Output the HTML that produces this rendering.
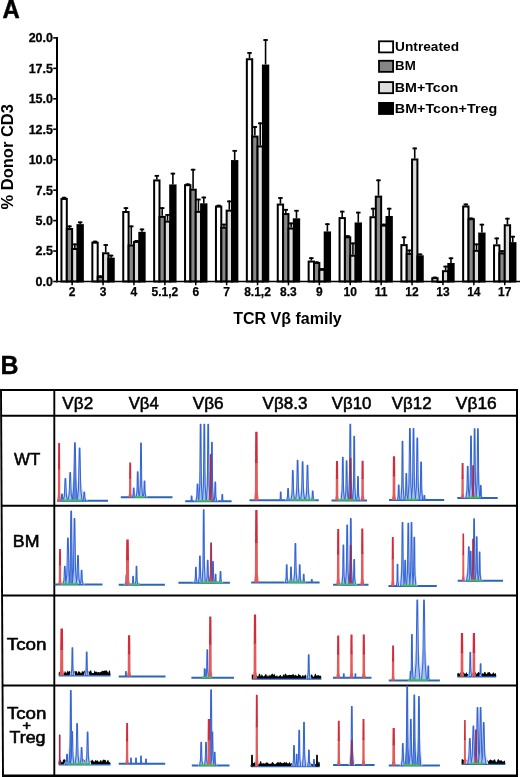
<!DOCTYPE html>
<html><head><meta charset="utf-8"><style>
html,body{margin:0;padding:0;background:#fff;}
body{width:520px;height:777px;overflow:hidden;}
svg{display:block;will-change:transform;}
text{font-family:"Liberation Sans", sans-serif;fill:#000;}
</style></head><body>
<svg width="520" height="777" viewBox="0 0 520 777">
<rect x="0" y="0" width="520" height="777" fill="#fff"/>
<line x1="64.12" y1="197.95" x2="64.12" y2="196.85" stroke="#000" stroke-width="1.6"/>
<line x1="61.88" y1="197.75" x2="66.38" y2="197.75" stroke="#000" stroke-width="1.8"/>
<rect x="61.45" y="198.95" width="5.35" height="82.55" fill="#ffffff" stroke="#000" stroke-width="2.0"/>
<line x1="69.47" y1="228.03" x2="69.47" y2="225.47" stroke="#000" stroke-width="1.6"/>
<line x1="67.22" y1="226.37" x2="71.72" y2="226.37" stroke="#000" stroke-width="1.8"/>
<rect x="66.80" y="229.03" width="5.35" height="52.47" fill="#878787" stroke="#000" stroke-width="2.0"/>
<line x1="74.83" y1="248.00" x2="74.83" y2="243.50" stroke="#000" stroke-width="1.6"/>
<line x1="72.58" y1="244.40" x2="77.08" y2="244.40" stroke="#000" stroke-width="1.8"/>
<rect x="72.15" y="249.00" width="5.35" height="32.50" fill="#dcdcdc" stroke="#000" stroke-width="2.0"/>
<line x1="80.17" y1="224.13" x2="80.17" y2="221.45" stroke="#000" stroke-width="1.6"/>
<line x1="77.92" y1="222.35" x2="82.42" y2="222.35" stroke="#000" stroke-width="1.8"/>
<rect x="77.50" y="225.13" width="5.35" height="56.37" fill="#000000" stroke="#000" stroke-width="2.0"/>
<line x1="72.15" y1="281.5" x2="72.15" y2="285.3" stroke="#000" stroke-width="1.5"/>
<text x="72.15" y="296" text-anchor="middle" font-size="12" font-weight="bold" stroke="#000" stroke-width="0.25">2</text>
<line x1="95.03" y1="241.67" x2="95.03" y2="240.70" stroke="#000" stroke-width="1.6"/>
<line x1="92.78" y1="241.60" x2="97.28" y2="241.60" stroke="#000" stroke-width="1.8"/>
<rect x="92.35" y="242.67" width="5.35" height="38.83" fill="#ffffff" stroke="#000" stroke-width="2.0"/>
<line x1="100.38" y1="276.02" x2="100.38" y2="275.41" stroke="#000" stroke-width="1.6"/>
<line x1="98.12" y1="276.31" x2="102.62" y2="276.31" stroke="#000" stroke-width="1.8"/>
<rect x="97.70" y="277.02" width="5.35" height="4.48" fill="#878787" stroke="#000" stroke-width="2.0"/>
<line x1="105.73" y1="252.27" x2="105.73" y2="244.11" stroke="#000" stroke-width="1.6"/>
<line x1="103.48" y1="245.01" x2="107.98" y2="245.01" stroke="#000" stroke-width="1.8"/>
<rect x="103.05" y="253.27" width="5.35" height="28.23" fill="#dcdcdc" stroke="#000" stroke-width="2.0"/>
<line x1="111.08" y1="257.63" x2="111.08" y2="254.70" stroke="#000" stroke-width="1.6"/>
<line x1="108.83" y1="255.60" x2="113.33" y2="255.60" stroke="#000" stroke-width="1.8"/>
<rect x="108.40" y="258.63" width="5.35" height="22.87" fill="#000000" stroke="#000" stroke-width="2.0"/>
<line x1="103.05" y1="281.5" x2="103.05" y2="285.3" stroke="#000" stroke-width="1.5"/>
<text x="103.05" y="296" text-anchor="middle" font-size="12" font-weight="bold" stroke="#000" stroke-width="0.25">3</text>
<line x1="125.92" y1="210.98" x2="125.92" y2="207.20" stroke="#000" stroke-width="1.6"/>
<line x1="123.67" y1="208.10" x2="128.17" y2="208.10" stroke="#000" stroke-width="1.8"/>
<rect x="123.25" y="211.98" width="5.35" height="69.52" fill="#ffffff" stroke="#000" stroke-width="2.0"/>
<line x1="131.28" y1="244.47" x2="131.28" y2="225.47" stroke="#000" stroke-width="1.6"/>
<line x1="129.03" y1="226.37" x2="133.53" y2="226.37" stroke="#000" stroke-width="1.8"/>
<rect x="128.60" y="245.47" width="5.35" height="36.03" fill="#878787" stroke="#000" stroke-width="2.0"/>
<line x1="136.62" y1="240.94" x2="136.62" y2="240.09" stroke="#000" stroke-width="1.6"/>
<line x1="134.38" y1="240.99" x2="138.88" y2="240.99" stroke="#000" stroke-width="1.8"/>
<rect x="133.95" y="241.94" width="5.35" height="39.56" fill="#dcdcdc" stroke="#000" stroke-width="2.0"/>
<line x1="141.97" y1="231.81" x2="141.97" y2="228.52" stroke="#000" stroke-width="1.6"/>
<line x1="139.72" y1="229.42" x2="144.22" y2="229.42" stroke="#000" stroke-width="1.8"/>
<rect x="139.30" y="232.81" width="5.35" height="48.69" fill="#000000" stroke="#000" stroke-width="2.0"/>
<line x1="133.95" y1="281.5" x2="133.95" y2="285.3" stroke="#000" stroke-width="1.5"/>
<text x="133.95" y="296" text-anchor="middle" font-size="12" font-weight="bold" stroke="#000" stroke-width="0.25">4</text>
<line x1="156.83" y1="179.43" x2="156.83" y2="174.93" stroke="#000" stroke-width="1.6"/>
<line x1="154.58" y1="175.83" x2="159.08" y2="175.83" stroke="#000" stroke-width="1.8"/>
<rect x="154.15" y="180.43" width="5.35" height="101.07" fill="#ffffff" stroke="#000" stroke-width="2.0"/>
<line x1="162.18" y1="215.85" x2="162.18" y2="207.20" stroke="#000" stroke-width="1.6"/>
<line x1="159.93" y1="208.10" x2="164.43" y2="208.10" stroke="#000" stroke-width="1.8"/>
<rect x="159.50" y="216.85" width="5.35" height="64.65" fill="#878787" stroke="#000" stroke-width="2.0"/>
<line x1="167.53" y1="220.60" x2="167.53" y2="214.02" stroke="#000" stroke-width="1.6"/>
<line x1="165.28" y1="214.92" x2="169.78" y2="214.92" stroke="#000" stroke-width="1.8"/>
<rect x="164.85" y="221.60" width="5.35" height="59.90" fill="#dcdcdc" stroke="#000" stroke-width="2.0"/>
<line x1="172.88" y1="184.43" x2="172.88" y2="172.73" stroke="#000" stroke-width="1.6"/>
<line x1="170.62" y1="173.63" x2="175.12" y2="173.63" stroke="#000" stroke-width="1.8"/>
<rect x="170.20" y="185.43" width="5.35" height="96.07" fill="#000000" stroke="#000" stroke-width="2.0"/>
<line x1="164.85" y1="281.5" x2="164.85" y2="285.3" stroke="#000" stroke-width="1.5"/>
<text x="164.85" y="296" text-anchor="middle" font-size="12" font-weight="bold" stroke="#000" stroke-width="0.25">5.1,2</text>
<line x1="187.73" y1="184.18" x2="187.73" y2="183.45" stroke="#000" stroke-width="1.6"/>
<line x1="185.48" y1="184.35" x2="189.98" y2="184.35" stroke="#000" stroke-width="1.8"/>
<rect x="185.05" y="185.18" width="5.35" height="96.32" fill="#ffffff" stroke="#000" stroke-width="2.0"/>
<line x1="193.08" y1="188.69" x2="193.08" y2="168.84" stroke="#000" stroke-width="1.6"/>
<line x1="190.83" y1="169.74" x2="195.33" y2="169.74" stroke="#000" stroke-width="1.8"/>
<rect x="190.40" y="189.69" width="5.35" height="91.81" fill="#878787" stroke="#000" stroke-width="2.0"/>
<line x1="198.43" y1="210.86" x2="198.43" y2="198.68" stroke="#000" stroke-width="1.6"/>
<line x1="196.18" y1="199.58" x2="200.68" y2="199.58" stroke="#000" stroke-width="1.8"/>
<rect x="195.75" y="211.86" width="5.35" height="69.64" fill="#dcdcdc" stroke="#000" stroke-width="2.0"/>
<line x1="203.78" y1="203.30" x2="203.78" y2="196.61" stroke="#000" stroke-width="1.6"/>
<line x1="201.53" y1="197.51" x2="206.03" y2="197.51" stroke="#000" stroke-width="1.8"/>
<rect x="201.10" y="204.30" width="5.35" height="77.20" fill="#000000" stroke="#000" stroke-width="2.0"/>
<line x1="195.75" y1="281.5" x2="195.75" y2="285.3" stroke="#000" stroke-width="1.5"/>
<text x="195.75" y="296" text-anchor="middle" font-size="12" font-weight="bold" stroke="#000" stroke-width="0.25">6</text>
<line x1="218.63" y1="205.62" x2="218.63" y2="204.77" stroke="#000" stroke-width="1.6"/>
<line x1="216.38" y1="205.67" x2="220.88" y2="205.67" stroke="#000" stroke-width="1.8"/>
<rect x="215.95" y="206.62" width="5.35" height="74.88" fill="#ffffff" stroke="#000" stroke-width="2.0"/>
<line x1="223.98" y1="226.69" x2="223.98" y2="223.65" stroke="#000" stroke-width="1.6"/>
<line x1="221.73" y1="224.55" x2="226.23" y2="224.55" stroke="#000" stroke-width="1.8"/>
<rect x="221.30" y="227.69" width="5.35" height="53.81" fill="#878787" stroke="#000" stroke-width="2.0"/>
<line x1="229.33" y1="209.64" x2="229.33" y2="200.50" stroke="#000" stroke-width="1.6"/>
<line x1="227.08" y1="201.40" x2="231.58" y2="201.40" stroke="#000" stroke-width="1.8"/>
<rect x="226.65" y="210.64" width="5.35" height="70.86" fill="#dcdcdc" stroke="#000" stroke-width="2.0"/>
<line x1="234.68" y1="160.07" x2="234.68" y2="149.96" stroke="#000" stroke-width="1.6"/>
<line x1="232.43" y1="150.86" x2="236.93" y2="150.86" stroke="#000" stroke-width="1.8"/>
<rect x="232.00" y="161.07" width="5.35" height="120.43" fill="#000000" stroke="#000" stroke-width="2.0"/>
<line x1="226.65" y1="281.5" x2="226.65" y2="285.3" stroke="#000" stroke-width="1.5"/>
<text x="226.65" y="296" text-anchor="middle" font-size="12" font-weight="bold" stroke="#000" stroke-width="0.25">7</text>
<line x1="249.52" y1="58.24" x2="249.52" y2="52.03" stroke="#000" stroke-width="1.6"/>
<line x1="247.27" y1="52.93" x2="251.77" y2="52.93" stroke="#000" stroke-width="1.8"/>
<rect x="246.85" y="59.24" width="5.35" height="222.26" fill="#ffffff" stroke="#000" stroke-width="2.0"/>
<line x1="254.87" y1="135.58" x2="254.87" y2="126.08" stroke="#000" stroke-width="1.6"/>
<line x1="252.62" y1="126.98" x2="257.12" y2="126.98" stroke="#000" stroke-width="1.8"/>
<rect x="252.20" y="136.58" width="5.35" height="144.92" fill="#878787" stroke="#000" stroke-width="2.0"/>
<line x1="260.22" y1="145.45" x2="260.22" y2="122.43" stroke="#000" stroke-width="1.6"/>
<line x1="257.97" y1="123.33" x2="262.47" y2="123.33" stroke="#000" stroke-width="1.8"/>
<rect x="257.55" y="146.45" width="5.35" height="135.05" fill="#dcdcdc" stroke="#000" stroke-width="2.0"/>
<line x1="265.57" y1="64.57" x2="265.57" y2="39.12" stroke="#000" stroke-width="1.6"/>
<line x1="263.32" y1="40.02" x2="267.82" y2="40.02" stroke="#000" stroke-width="1.8"/>
<rect x="262.90" y="65.57" width="5.35" height="215.93" fill="#000000" stroke="#000" stroke-width="2.0"/>
<line x1="257.55" y1="281.5" x2="257.55" y2="285.3" stroke="#000" stroke-width="1.5"/>
<text x="257.55" y="296" text-anchor="middle" font-size="12" font-weight="bold" stroke="#000" stroke-width="0.25">8.1,2</text>
<line x1="280.43" y1="203.55" x2="280.43" y2="197.09" stroke="#000" stroke-width="1.6"/>
<line x1="278.18" y1="197.99" x2="282.68" y2="197.99" stroke="#000" stroke-width="1.8"/>
<rect x="277.75" y="204.55" width="5.35" height="76.95" fill="#ffffff" stroke="#000" stroke-width="2.0"/>
<line x1="285.78" y1="213.05" x2="285.78" y2="208.91" stroke="#000" stroke-width="1.6"/>
<line x1="283.53" y1="209.81" x2="288.03" y2="209.81" stroke="#000" stroke-width="1.8"/>
<rect x="283.10" y="214.05" width="5.35" height="67.45" fill="#878787" stroke="#000" stroke-width="2.0"/>
<line x1="291.12" y1="227.54" x2="291.12" y2="222.55" stroke="#000" stroke-width="1.6"/>
<line x1="288.88" y1="223.45" x2="293.38" y2="223.45" stroke="#000" stroke-width="1.8"/>
<rect x="288.45" y="228.54" width="5.35" height="52.96" fill="#dcdcdc" stroke="#000" stroke-width="2.0"/>
<line x1="296.48" y1="218.29" x2="296.48" y2="209.88" stroke="#000" stroke-width="1.6"/>
<line x1="294.23" y1="210.78" x2="298.73" y2="210.78" stroke="#000" stroke-width="1.8"/>
<rect x="293.80" y="219.29" width="5.35" height="62.21" fill="#000000" stroke="#000" stroke-width="2.0"/>
<line x1="288.45" y1="281.5" x2="288.45" y2="285.3" stroke="#000" stroke-width="1.5"/>
<text x="288.45" y="296" text-anchor="middle" font-size="12" font-weight="bold" stroke="#000" stroke-width="0.25">8.3</text>
<line x1="311.33" y1="260.55" x2="311.33" y2="257.26" stroke="#000" stroke-width="1.6"/>
<line x1="309.08" y1="258.16" x2="313.58" y2="258.16" stroke="#000" stroke-width="1.8"/>
<rect x="308.65" y="261.55" width="5.35" height="19.95" fill="#ffffff" stroke="#000" stroke-width="2.0"/>
<line x1="316.68" y1="262.01" x2="316.68" y2="261.40" stroke="#000" stroke-width="1.6"/>
<line x1="314.43" y1="262.30" x2="318.93" y2="262.30" stroke="#000" stroke-width="1.8"/>
<rect x="314.00" y="263.01" width="5.35" height="18.49" fill="#878787" stroke="#000" stroke-width="2.0"/>
<line x1="322.03" y1="268.83" x2="322.03" y2="268.10" stroke="#000" stroke-width="1.6"/>
<line x1="319.78" y1="269.00" x2="324.28" y2="269.00" stroke="#000" stroke-width="1.8"/>
<rect x="319.35" y="269.83" width="5.35" height="11.67" fill="#dcdcdc" stroke="#000" stroke-width="2.0"/>
<line x1="327.38" y1="231.44" x2="327.38" y2="223.28" stroke="#000" stroke-width="1.6"/>
<line x1="325.13" y1="224.18" x2="329.63" y2="224.18" stroke="#000" stroke-width="1.8"/>
<rect x="324.70" y="232.44" width="5.35" height="49.06" fill="#000000" stroke="#000" stroke-width="2.0"/>
<line x1="319.35" y1="281.5" x2="319.35" y2="285.3" stroke="#000" stroke-width="1.5"/>
<text x="319.35" y="296" text-anchor="middle" font-size="12" font-weight="bold" stroke="#000" stroke-width="0.25">9</text>
<line x1="342.23" y1="217.07" x2="342.23" y2="210.73" stroke="#000" stroke-width="1.6"/>
<line x1="339.98" y1="211.63" x2="344.48" y2="211.63" stroke="#000" stroke-width="1.8"/>
<rect x="339.55" y="218.07" width="5.35" height="63.43" fill="#ffffff" stroke="#000" stroke-width="2.0"/>
<line x1="347.58" y1="236.31" x2="347.58" y2="235.22" stroke="#000" stroke-width="1.6"/>
<line x1="345.33" y1="236.12" x2="349.83" y2="236.12" stroke="#000" stroke-width="1.8"/>
<rect x="344.90" y="237.31" width="5.35" height="44.19" fill="#878787" stroke="#000" stroke-width="2.0"/>
<line x1="352.93" y1="254.70" x2="352.93" y2="242.52" stroke="#000" stroke-width="1.6"/>
<line x1="350.68" y1="243.42" x2="355.18" y2="243.42" stroke="#000" stroke-width="1.8"/>
<rect x="350.25" y="255.70" width="5.35" height="25.80" fill="#dcdcdc" stroke="#000" stroke-width="2.0"/>
<line x1="358.28" y1="222.43" x2="358.28" y2="211.71" stroke="#000" stroke-width="1.6"/>
<line x1="356.03" y1="212.61" x2="360.53" y2="212.61" stroke="#000" stroke-width="1.8"/>
<rect x="355.60" y="223.43" width="5.35" height="58.07" fill="#000000" stroke="#000" stroke-width="2.0"/>
<line x1="350.25" y1="281.5" x2="350.25" y2="285.3" stroke="#000" stroke-width="1.5"/>
<text x="350.25" y="296" text-anchor="middle" font-size="12" font-weight="bold" stroke="#000" stroke-width="0.25">10</text>
<line x1="373.12" y1="216.22" x2="373.12" y2="207.81" stroke="#000" stroke-width="1.6"/>
<line x1="370.88" y1="208.71" x2="375.38" y2="208.71" stroke="#000" stroke-width="1.8"/>
<rect x="370.45" y="217.22" width="5.35" height="64.28" fill="#ffffff" stroke="#000" stroke-width="2.0"/>
<line x1="378.48" y1="195.63" x2="378.48" y2="179.43" stroke="#000" stroke-width="1.6"/>
<line x1="376.23" y1="180.33" x2="380.73" y2="180.33" stroke="#000" stroke-width="1.8"/>
<rect x="375.80" y="196.63" width="5.35" height="84.87" fill="#878787" stroke="#000" stroke-width="2.0"/>
<line x1="383.82" y1="224.62" x2="383.82" y2="223.65" stroke="#000" stroke-width="1.6"/>
<line x1="381.57" y1="224.55" x2="386.07" y2="224.55" stroke="#000" stroke-width="1.8"/>
<rect x="381.15" y="225.62" width="5.35" height="55.88" fill="#dcdcdc" stroke="#000" stroke-width="2.0"/>
<line x1="389.18" y1="215.97" x2="389.18" y2="207.81" stroke="#000" stroke-width="1.6"/>
<line x1="386.93" y1="208.71" x2="391.43" y2="208.71" stroke="#000" stroke-width="1.8"/>
<rect x="386.50" y="216.97" width="5.35" height="64.53" fill="#000000" stroke="#000" stroke-width="2.0"/>
<line x1="381.15" y1="281.5" x2="381.15" y2="285.3" stroke="#000" stroke-width="1.5"/>
<text x="381.15" y="296" text-anchor="middle" font-size="12" font-weight="bold" stroke="#000" stroke-width="0.25">11</text>
<line x1="404.02" y1="244.11" x2="404.02" y2="236.43" stroke="#000" stroke-width="1.6"/>
<line x1="401.77" y1="237.33" x2="406.27" y2="237.33" stroke="#000" stroke-width="1.8"/>
<rect x="401.35" y="245.11" width="5.35" height="36.39" fill="#ffffff" stroke="#000" stroke-width="2.0"/>
<line x1="409.38" y1="252.88" x2="409.38" y2="249.59" stroke="#000" stroke-width="1.6"/>
<line x1="407.12" y1="250.49" x2="411.62" y2="250.49" stroke="#000" stroke-width="1.8"/>
<rect x="406.70" y="253.88" width="5.35" height="27.62" fill="#878787" stroke="#000" stroke-width="2.0"/>
<line x1="414.72" y1="158.48" x2="414.72" y2="147.52" stroke="#000" stroke-width="1.6"/>
<line x1="412.47" y1="148.42" x2="416.97" y2="148.42" stroke="#000" stroke-width="1.8"/>
<rect x="412.05" y="159.48" width="5.35" height="122.02" fill="#dcdcdc" stroke="#000" stroke-width="2.0"/>
<line x1="420.07" y1="255.31" x2="420.07" y2="253.49" stroke="#000" stroke-width="1.6"/>
<line x1="417.82" y1="254.39" x2="422.32" y2="254.39" stroke="#000" stroke-width="1.8"/>
<rect x="417.40" y="256.31" width="5.35" height="25.19" fill="#000000" stroke="#000" stroke-width="2.0"/>
<line x1="412.05" y1="281.5" x2="412.05" y2="285.3" stroke="#000" stroke-width="1.5"/>
<text x="412.05" y="296" text-anchor="middle" font-size="12" font-weight="bold" stroke="#000" stroke-width="0.25">12</text>
<line x1="434.92" y1="277.24" x2="434.92" y2="276.63" stroke="#000" stroke-width="1.6"/>
<line x1="432.67" y1="277.53" x2="437.17" y2="277.53" stroke="#000" stroke-width="1.8"/>
<rect x="432.25" y="278.24" width="5.35" height="3.26" fill="#ffffff" stroke="#000" stroke-width="2.0"/>
<rect x="437.60" y="281.89" width="5.35" height="0.10" fill="#878787" stroke="#000" stroke-width="2.0"/>
<line x1="445.62" y1="270.17" x2="445.62" y2="265.67" stroke="#000" stroke-width="1.6"/>
<line x1="443.37" y1="266.57" x2="447.87" y2="266.57" stroke="#000" stroke-width="1.8"/>
<rect x="442.95" y="271.17" width="5.35" height="10.33" fill="#dcdcdc" stroke="#000" stroke-width="2.0"/>
<line x1="450.97" y1="262.99" x2="450.97" y2="257.38" stroke="#000" stroke-width="1.6"/>
<line x1="448.72" y1="258.28" x2="453.22" y2="258.28" stroke="#000" stroke-width="1.8"/>
<rect x="448.30" y="263.99" width="5.35" height="17.51" fill="#000000" stroke="#000" stroke-width="2.0"/>
<line x1="442.95" y1="281.5" x2="442.95" y2="285.3" stroke="#000" stroke-width="1.5"/>
<text x="442.95" y="296" text-anchor="middle" font-size="12" font-weight="bold" stroke="#000" stroke-width="0.25">13</text>
<line x1="465.83" y1="205.50" x2="465.83" y2="203.55" stroke="#000" stroke-width="1.6"/>
<line x1="463.58" y1="204.45" x2="468.08" y2="204.45" stroke="#000" stroke-width="1.8"/>
<rect x="463.15" y="206.50" width="5.35" height="75.00" fill="#ffffff" stroke="#000" stroke-width="2.0"/>
<line x1="471.18" y1="218.16" x2="471.18" y2="217.56" stroke="#000" stroke-width="1.6"/>
<line x1="468.93" y1="218.46" x2="473.43" y2="218.46" stroke="#000" stroke-width="1.8"/>
<rect x="468.50" y="219.16" width="5.35" height="62.34" fill="#878787" stroke="#000" stroke-width="2.0"/>
<line x1="476.53" y1="249.83" x2="476.53" y2="243.50" stroke="#000" stroke-width="1.6"/>
<line x1="474.28" y1="244.40" x2="478.78" y2="244.40" stroke="#000" stroke-width="1.8"/>
<rect x="473.85" y="250.83" width="5.35" height="30.67" fill="#dcdcdc" stroke="#000" stroke-width="2.0"/>
<line x1="481.88" y1="232.54" x2="481.88" y2="223.77" stroke="#000" stroke-width="1.6"/>
<line x1="479.63" y1="224.67" x2="484.13" y2="224.67" stroke="#000" stroke-width="1.8"/>
<rect x="479.20" y="233.54" width="5.35" height="47.96" fill="#000000" stroke="#000" stroke-width="2.0"/>
<line x1="473.85" y1="281.5" x2="473.85" y2="285.3" stroke="#000" stroke-width="1.5"/>
<text x="473.85" y="296" text-anchor="middle" font-size="12" font-weight="bold" stroke="#000" stroke-width="0.25">14</text>
<line x1="496.73" y1="244.35" x2="496.73" y2="237.53" stroke="#000" stroke-width="1.6"/>
<line x1="494.48" y1="238.43" x2="498.98" y2="238.43" stroke="#000" stroke-width="1.8"/>
<rect x="494.05" y="245.35" width="5.35" height="36.15" fill="#ffffff" stroke="#000" stroke-width="2.0"/>
<line x1="502.08" y1="252.39" x2="502.08" y2="250.20" stroke="#000" stroke-width="1.6"/>
<line x1="499.83" y1="251.10" x2="504.33" y2="251.10" stroke="#000" stroke-width="1.8"/>
<rect x="499.40" y="253.39" width="5.35" height="28.11" fill="#878787" stroke="#000" stroke-width="2.0"/>
<line x1="507.43" y1="224.25" x2="507.43" y2="217.80" stroke="#000" stroke-width="1.6"/>
<line x1="505.18" y1="218.70" x2="509.68" y2="218.70" stroke="#000" stroke-width="1.8"/>
<rect x="504.75" y="225.25" width="5.35" height="56.25" fill="#dcdcdc" stroke="#000" stroke-width="2.0"/>
<line x1="512.77" y1="242.16" x2="512.77" y2="235.82" stroke="#000" stroke-width="1.6"/>
<line x1="510.52" y1="236.72" x2="515.02" y2="236.72" stroke="#000" stroke-width="1.8"/>
<rect x="510.10" y="243.16" width="5.35" height="38.34" fill="#000000" stroke="#000" stroke-width="2.0"/>
<line x1="504.75" y1="281.5" x2="504.75" y2="285.3" stroke="#000" stroke-width="1.5"/>
<text x="504.75" y="296" text-anchor="middle" font-size="12" font-weight="bold" stroke="#000" stroke-width="0.25">17</text>
<line x1="57.0" y1="37.1" x2="57.0" y2="282.3" stroke="#000" stroke-width="2"/>
<line x1="56" y1="281.5" x2="520" y2="281.5" stroke="#000" stroke-width="1.7"/>
<line x1="53.2" y1="281.50" x2="57.0" y2="281.50" stroke="#000" stroke-width="1.6"/>
<text x="53.0" y="285.90" text-anchor="end" font-size="12.5" font-weight="bold" stroke="#000" stroke-width="0.3">0.0</text>
<line x1="53.2" y1="251.05" x2="57.0" y2="251.05" stroke="#000" stroke-width="1.6"/>
<text x="53.0" y="255.45" text-anchor="end" font-size="12.5" font-weight="bold" stroke="#000" stroke-width="0.3">2.5</text>
<line x1="53.2" y1="220.60" x2="57.0" y2="220.60" stroke="#000" stroke-width="1.6"/>
<text x="53.0" y="225.00" text-anchor="end" font-size="12.5" font-weight="bold" stroke="#000" stroke-width="0.3">5.0</text>
<line x1="53.2" y1="190.15" x2="57.0" y2="190.15" stroke="#000" stroke-width="1.6"/>
<text x="53.0" y="194.55" text-anchor="end" font-size="12.5" font-weight="bold" stroke="#000" stroke-width="0.3">7.5</text>
<line x1="53.2" y1="159.70" x2="57.0" y2="159.70" stroke="#000" stroke-width="1.6"/>
<text x="53.0" y="164.10" text-anchor="end" font-size="12.5" font-weight="bold" stroke="#000" stroke-width="0.3">10.0</text>
<line x1="53.2" y1="129.25" x2="57.0" y2="129.25" stroke="#000" stroke-width="1.6"/>
<text x="53.0" y="133.65" text-anchor="end" font-size="12.5" font-weight="bold" stroke="#000" stroke-width="0.3">12.5</text>
<line x1="53.2" y1="98.80" x2="57.0" y2="98.80" stroke="#000" stroke-width="1.6"/>
<text x="53.0" y="103.20" text-anchor="end" font-size="12.5" font-weight="bold" stroke="#000" stroke-width="0.3">15.0</text>
<line x1="53.2" y1="68.35" x2="57.0" y2="68.35" stroke="#000" stroke-width="1.6"/>
<text x="53.0" y="72.75" text-anchor="end" font-size="12.5" font-weight="bold" stroke="#000" stroke-width="0.3">17.5</text>
<line x1="53.2" y1="37.90" x2="57.0" y2="37.90" stroke="#000" stroke-width="1.6"/>
<text x="53.0" y="42.30" text-anchor="end" font-size="12.5" font-weight="bold" stroke="#000" stroke-width="0.3">20.0</text>
<text x="12.9" y="156.8" transform="rotate(-90 12.9 156.8)" text-anchor="middle" font-size="16.5" font-weight="bold">% Donor CD3</text>
<text x="287.5" y="323.6" text-anchor="middle" font-size="16" font-weight="bold">TCR V&#946; family</text>
<text x="0" y="0" transform="translate(2.6 17.8) scale(0.9 1)" font-size="26.5" font-weight="bold" stroke="#000" stroke-width="0.5">A</text>
<text x="0" y="0" transform="translate(0.6 373.9) scale(1 1)" font-size="25" font-weight="bold" stroke="#000" stroke-width="0.35">B</text>
<rect x="379.0" y="41.30" width="14.1" height="11.1" fill="#ffffff" stroke="#000" stroke-width="1.8"/>
<rect x="379.0" y="60.75" width="14.1" height="11.1" fill="#858585" stroke="#000" stroke-width="1.8"/>
<rect x="379.0" y="82.10" width="14.1" height="11.1" fill="#dddddd" stroke="#000" stroke-width="1.8"/>
<rect x="379.0" y="102.90" width="14.1" height="11.1" fill="#000000" stroke="#000" stroke-width="1.8"/>
<line x1="0.5" y1="390.0" x2="517.8" y2="390.0" stroke="#000" stroke-width="1.9"/>
<line x1="0.5" y1="415.8" x2="517.8" y2="415.8" stroke="#000" stroke-width="1.9"/>
<line x1="1.0" y1="505.7" x2="517.8" y2="505.7" stroke="#000" stroke-width="1.9"/>
<line x1="1.5" y1="595.5" x2="517.8" y2="595.5" stroke="#000" stroke-width="1.9"/>
<line x1="2.0" y1="685.5" x2="517.8" y2="685.5" stroke="#000" stroke-width="1.9"/>
<line x1="2.3" y1="775.7" x2="517.8" y2="775.7" stroke="#000" stroke-width="2.6"/>
<line x1="1.0" y1="389.1" x2="3.0" y2="777" stroke="#000" stroke-width="1.9"/>
<line x1="54.3" y1="389.1" x2="54.3" y2="777" stroke="#000" stroke-width="1.9"/>
<line x1="517" y1="389.1" x2="517" y2="777" stroke="#000" stroke-width="2"/>
<text x="62.35" y="409.2" font-size="16.8" textLength="30.82" lengthAdjust="spacingAndGlyphs" stroke="#000" stroke-width="0.55">V&#946;2</text>
<text x="128.67" y="409.2" font-size="16.8" textLength="30.08" lengthAdjust="spacingAndGlyphs" stroke="#000" stroke-width="0.55">V&#946;4</text>
<text x="192.81" y="409.2" font-size="16.8" textLength="30.87" lengthAdjust="spacingAndGlyphs" stroke="#000" stroke-width="0.55">V&#946;6</text>
<text x="262.63" y="409.2" font-size="16.8" textLength="44.74" lengthAdjust="spacingAndGlyphs" stroke="#000" stroke-width="0.55">V&#946;8.3</text>
<text x="331.81" y="409.2" font-size="16.8" textLength="39.58" lengthAdjust="spacingAndGlyphs" stroke="#000" stroke-width="0.55">V&#946;10</text>
<text x="391.84" y="409.2" font-size="16.8" textLength="39.78" lengthAdjust="spacingAndGlyphs" stroke="#000" stroke-width="0.55">V&#946;12</text>
<text x="455.88" y="409.2" font-size="16.8" textLength="40.81" lengthAdjust="spacingAndGlyphs" stroke="#000" stroke-width="0.55">V&#946;16</text>
<text x="14.08" y="464.6" font-size="16.8" textLength="26.24" lengthAdjust="spacingAndGlyphs" stroke="#000" stroke-width="0.55">WT</text>
<text x="12.89" y="547.1" font-size="16.4" textLength="26.59" lengthAdjust="spacingAndGlyphs" stroke="#000" stroke-width="0.55">BM</text>
<text x="6.78" y="649.5" font-size="16.6" textLength="39.81" lengthAdjust="spacingAndGlyphs" stroke="#000" stroke-width="0.55">Tcon</text>
<text x="6.90" y="718.7" font-size="16.2" textLength="39.57" lengthAdjust="spacingAndGlyphs" stroke="#000" stroke-width="0.55">Tcon</text>
<text x="22.63" y="729.6" font-size="12.5" textLength="8.43" lengthAdjust="spacingAndGlyphs" stroke="#000" stroke-width="0.7">+</text>
<text x="9.42" y="743.0" font-size="15.6" textLength="36.12" lengthAdjust="spacingAndGlyphs" stroke="#000" stroke-width="0.55">Treg</text>
<text x="395.13" y="50.9" font-size="13.2" textLength="63.87" lengthAdjust="spacingAndGlyphs" font-weight="bold">Untreated</text>
<text x="395.09" y="70.4" font-size="13.2" textLength="20.63" lengthAdjust="spacingAndGlyphs" font-weight="bold">BM</text>
<text x="394.79" y="91.8" font-size="13.2" textLength="63.36" lengthAdjust="spacingAndGlyphs" font-weight="bold">BM+Tcon</text>
<text x="394.79" y="112.9" font-size="13.2" textLength="102.44" lengthAdjust="spacingAndGlyphs" font-weight="bold">BM+Tcon+Treg</text>
<line x1="57" y1="500.7" x2="108" y2="500.7" stroke="#2d67b4" stroke-width="2.0"/>
<polygon points="60.80,500.70 64.00,492.26 66.80,492.26 70.00,500.70" fill="#d3dff7"/>
<polygon points="65.60,500.70 68.80,489.95 71.60,489.95 74.80,500.70" fill="#d3dff7"/>
<polygon points="69.38,500.70 73.22,478.70 76.58,478.70 80.42,500.70" fill="#d3dff7"/>
<polygon points="74.54,500.70 78.06,480.67 81.14,480.67 84.66,500.70" fill="#d3dff7"/>
<polygon points="80.85,500.70 83.25,497.39 85.35,497.39 87.75,500.70" fill="#d3dff7"/>
<polygon points="59.24,500.70 61.16,498.15 62.84,498.15 64.76,500.70" fill="#d3dff7"/>
<polygon points="63.10,500.70 64.37,495.82 65.05,478.50 65.75,478.50 66.44,495.82 67.70,500.70" fill="#a9c1f0" stroke="#3565d4" stroke-width="1.05" stroke-linejoin="round"/>
<polygon points="67.90,500.70 69.17,494.47 69.85,472.40 70.55,472.40 71.23,494.47 72.50,500.70" fill="#a9c1f0" stroke="#3565d4" stroke-width="1.05" stroke-linejoin="round"/>
<polygon points="72.14,500.70 73.66,487.96 74.55,442.80 75.25,442.80 76.14,487.96 77.66,500.70" fill="#5a86e0" stroke="#3565d4" stroke-width="1.05" stroke-linejoin="round"/>
<polygon points="77.07,500.70 78.46,489.11 79.25,448.00 79.95,448.00 80.74,489.11 82.13,500.70" fill="#a9c1f0" stroke="#3565d4" stroke-width="1.05" stroke-linejoin="round"/>
<polygon points="82.58,500.70 83.52,498.79 83.95,492.00 84.65,492.00 85.08,498.79 86.02,500.70" fill="#a9c1f0" stroke="#3565d4" stroke-width="1.05" stroke-linejoin="round"/>
<polygon points="60.62,500.70 61.38,499.23 61.65,494.00 62.35,494.00 62.62,499.23 63.38,500.70" fill="#a9c1f0" stroke="#3565d4" stroke-width="1.05" stroke-linejoin="round"/>
<polygon points="57.30,500.70 57.90,493.75 58.00,468.86 60.20,468.86 60.30,493.75 60.90,500.70" fill="#e25a5a"/>
<polygon points="58.00,469.36 58.16,443.10 60.04,443.10 60.20,469.36" fill="#d02c3c"/>
<line x1="62" y1="500.2" x2="82" y2="500.2" stroke="#3cc83c" stroke-width="1.6"/>
<line x1="120.8" y1="497.3" x2="172.5" y2="497.3" stroke="#2d67b4" stroke-width="2.0"/>
<polygon points="130.94,497.30 132.86,493.77 134.54,493.77 136.46,497.30" fill="#d3dff7"/>
<polygon points="134.48,497.30 136.72,487.57 138.68,487.57 140.92,497.30" fill="#d3dff7"/>
<polygon points="137.78,497.30 140.02,476.67 141.98,476.67 144.22,497.30" fill="#d3dff7"/>
<polygon points="141.51,497.30 143.59,491.11 145.41,491.11 147.49,497.30" fill="#d3dff7"/>
<polygon points="132.32,497.30 133.08,495.25 133.35,488.00 134.05,488.00 134.32,495.25 135.08,497.30" fill="#a9c1f0" stroke="#3565d4" stroke-width="1.05" stroke-linejoin="round"/>
<polygon points="136.09,497.30 136.98,491.67 137.35,471.70 138.05,471.70 138.42,491.67 139.31,497.30" fill="#a9c1f0" stroke="#3565d4" stroke-width="1.05" stroke-linejoin="round"/>
<polygon points="139.39,497.30 140.28,485.35 140.65,443.00 141.35,443.00 141.72,485.35 142.61,497.30" fill="#a9c1f0" stroke="#3565d4" stroke-width="1.05" stroke-linejoin="round"/>
<polygon points="143.00,497.30 143.83,493.71 144.15,481.00 144.85,481.00 145.17,493.71 146.00,497.30" fill="#a9c1f0" stroke="#3565d4" stroke-width="1.05" stroke-linejoin="round"/>
<polygon points="128.40,497.30 129.00,493.10 129.10,478.05 131.30,478.05 131.40,493.10 132.00,497.30" fill="#e25a5a"/>
<polygon points="129.10,478.55 129.26,462.60 131.14,462.60 131.30,478.55" fill="#d02c3c"/>
<line x1="135" y1="496.8" x2="145" y2="496.8" stroke="#3cc83c" stroke-width="1.6"/>
<line x1="185.2" y1="501.3" x2="231.6" y2="501.3" stroke="#2d67b4" stroke-width="2.0"/>
<polygon points="194.05,501.30 196.45,494.73 198.55,494.73 200.95,501.30" fill="#d3dff7"/>
<polygon points="196.92,501.30 199.48,472.04 201.72,472.04 204.28,501.30" fill="#d3dff7"/>
<polygon points="200.62,501.30 203.18,472.04 205.42,472.04 207.98,501.30" fill="#d3dff7"/>
<polygon points="204.52,501.30 207.08,472.04 209.32,472.04 211.88,501.30" fill="#d3dff7"/>
<polygon points="208.68,501.30 210.92,478.84 212.88,478.84 215.12,501.30" fill="#d3dff7"/>
<polygon points="212.54,501.30 214.46,493.97 216.14,493.97 218.06,501.30" fill="#d3dff7"/>
<polygon points="190.45,501.30 191.08,500.13 191.25,496.00 191.95,496.00 192.12,500.13 192.75,501.30" fill="#a9c1f0" stroke="#3565d4" stroke-width="1.05" stroke-linejoin="round"/>
<polygon points="195.78,501.30 196.72,497.49 197.15,484.00 197.85,484.00 198.28,497.49 199.22,501.30" fill="#a9c1f0" stroke="#3565d4" stroke-width="1.05" stroke-linejoin="round"/>
<polygon points="198.76,501.30 199.77,484.36 200.25,424.30 200.95,424.30 201.43,484.36 202.44,501.30" fill="#a9c1f0" stroke="#3565d4" stroke-width="1.05" stroke-linejoin="round"/>
<polygon points="202.46,501.30 203.47,484.36 203.95,424.30 204.65,424.30 205.13,484.36 206.14,501.30" fill="#a9c1f0" stroke="#3565d4" stroke-width="1.05" stroke-linejoin="round"/>
<polygon points="206.36,501.30 207.37,484.36 207.85,424.30 208.55,424.30 209.03,484.36 210.04,501.30" fill="#a9c1f0" stroke="#3565d4" stroke-width="1.05" stroke-linejoin="round"/>
<polygon points="210.29,501.30 211.18,488.30 211.55,442.20 212.25,442.20 212.62,488.30 213.51,501.30" fill="#a9c1f0" stroke="#3565d4" stroke-width="1.05" stroke-linejoin="round"/>
<polygon points="213.92,501.30 214.68,497.05 214.95,482.00 215.65,482.00 215.92,497.05 216.68,501.30" fill="#a9c1f0" stroke="#3565d4" stroke-width="1.05" stroke-linejoin="round"/>
<polygon points="221.15,501.30 221.78,499.78 221.95,494.40 222.65,494.40 222.82,499.78 223.45,501.30" fill="#a9c1f0" stroke="#3565d4" stroke-width="1.05" stroke-linejoin="round"/>
<polygon points="209.09,501.30 209.98,490.98 210.35,454.40 211.05,454.40 211.42,490.98 212.31,501.30" fill="#c8809c" stroke="#9a2550" stroke-width="0.8" stroke-linejoin="round"/>
<line x1="210.70" y1="454.90" x2="210.70" y2="501.30" stroke="#9a2550" stroke-width="0.9"/>
<line x1="197.4" y1="500.8" x2="211.3" y2="500.8" stroke="#3cc83c" stroke-width="1.6"/>
<line x1="249.5" y1="500.3" x2="318.7" y2="500.3" stroke="#2d67b4" stroke-width="2.0"/>
<polygon points="285.11,500.30 287.19,495.82 289.01,495.82 291.09,500.30" fill="#d3dff7"/>
<polygon points="289.12,500.30 291.68,488.94 293.92,488.94 296.48,500.30" fill="#d3dff7"/>
<polygon points="293.46,500.30 296.34,485.10 298.86,485.10 301.74,500.30" fill="#d3dff7"/>
<polygon points="298.46,500.30 301.34,485.63 303.86,485.63 306.74,500.30" fill="#d3dff7"/>
<polygon points="303.36,500.30 306.24,486.96 308.76,486.96 311.64,500.30" fill="#d3dff7"/>
<polygon points="309.71,500.30 311.79,496.80 313.61,496.80 315.69,500.30" fill="#d3dff7"/>
<polygon points="279.55,500.30 280.18,498.47 280.35,492.00 281.05,492.00 281.22,498.47 281.85,500.30" fill="#a9c1f0" stroke="#3565d4" stroke-width="1.05" stroke-linejoin="round"/>
<polygon points="286.61,500.30 287.43,497.70 287.75,488.50 288.45,488.50 288.77,497.70 289.60,500.30" fill="#a9c1f0" stroke="#3565d4" stroke-width="1.05" stroke-linejoin="round"/>
<polygon points="290.96,500.30 291.97,493.72 292.45,470.40 293.15,470.40 293.63,493.72 294.64,500.30" fill="#a9c1f0" stroke="#3565d4" stroke-width="1.05" stroke-linejoin="round"/>
<polygon points="295.53,500.30 296.67,491.50 297.25,460.30 297.95,460.30 298.53,491.50 299.67,500.30" fill="#a9c1f0" stroke="#3565d4" stroke-width="1.05" stroke-linejoin="round"/>
<polygon points="300.53,500.30 301.67,491.81 302.25,461.70 302.95,461.70 303.53,491.81 304.67,500.30" fill="#a9c1f0" stroke="#3565d4" stroke-width="1.05" stroke-linejoin="round"/>
<polygon points="305.43,500.30 306.57,492.58 307.15,465.20 307.85,465.20 308.43,492.58 309.57,500.30" fill="#a9c1f0" stroke="#3565d4" stroke-width="1.05" stroke-linejoin="round"/>
<polygon points="311.20,500.30 312.03,498.28 312.35,491.10 313.05,491.10 313.37,498.28 314.19,500.30" fill="#a9c1f0" stroke="#3565d4" stroke-width="1.05" stroke-linejoin="round"/>
<polygon points="254.15,500.30 254.90,492.03 255.02,462.40 257.78,462.40 257.90,492.03 258.65,500.30" fill="#e25a5a"/>
<polygon points="255.02,462.90 255.23,431.70 257.57,431.70 257.78,462.90" fill="#d02c3c"/>
<line x1="290" y1="499.8" x2="315" y2="499.8" stroke="#3cc83c" stroke-width="1.6"/>
<line x1="331.5" y1="500.4" x2="367" y2="500.4" stroke="#2d67b4" stroke-width="2.0"/>
<polygon points="339.35,500.40 341.75,484.02 343.85,484.02 346.25,500.40" fill="#d3dff7"/>
<polygon points="343.15,500.40 345.55,485.35 347.65,485.35 350.05,500.40" fill="#d3dff7"/>
<polygon points="346.16,500.40 349.04,471.44 351.56,471.44 354.44,500.40" fill="#d3dff7"/>
<polygon points="351.21,500.40 353.29,476.00 355.11,476.00 357.19,500.40" fill="#d3dff7"/>
<polygon points="355.24,500.40 357.16,491.32 358.84,491.32 360.76,500.40" fill="#d3dff7"/>
<polygon points="341.07,500.40 342.02,490.92 342.45,457.30 343.15,457.30 343.58,490.92 344.53,500.40" fill="#a9c1f0" stroke="#3565d4" stroke-width="1.05" stroke-linejoin="round"/>
<polygon points="344.88,500.40 345.82,491.69 346.25,460.80 346.95,460.80 347.38,491.69 348.33,500.40" fill="#a9c1f0" stroke="#3565d4" stroke-width="1.05" stroke-linejoin="round"/>
<polygon points="348.23,500.40 349.37,483.64 349.95,424.20 350.65,424.20 351.23,483.64 352.37,500.40" fill="#a9c1f0" stroke="#3565d4" stroke-width="1.05" stroke-linejoin="round"/>
<polygon points="352.70,500.40 353.53,486.28 353.85,436.20 354.55,436.20 354.87,486.28 355.69,500.40" fill="#a9c1f0" stroke="#3565d4" stroke-width="1.05" stroke-linejoin="round"/>
<polygon points="356.62,500.40 357.38,495.14 357.65,476.50 358.35,476.50 358.62,495.14 359.38,500.40" fill="#a9c1f0" stroke="#3565d4" stroke-width="1.05" stroke-linejoin="round"/>
<polygon points="335.05,500.40 335.70,495.65 335.80,478.62 338.20,478.62 338.30,495.65 338.95,500.40" fill="#e25a5a"/>
<polygon points="335.80,479.12 335.98,461.10 338.02,461.10 338.20,479.12" fill="#d02c3c"/>
<polygon points="360.65,500.40 361.30,495.60 361.40,478.40 363.80,478.40 363.90,495.60 364.55,500.40" fill="#e25a5a"/>
<polygon points="361.40,478.90 361.58,460.70 363.62,460.70 363.80,478.90" fill="#d02c3c"/>
<polygon points="349.45,500.40 350.08,491.07 350.25,458.00 350.95,458.00 351.12,491.07 351.75,500.40" fill="#c8809c" stroke="#9a2550" stroke-width="0.8" stroke-linejoin="round"/>
<line x1="350.60" y1="458.50" x2="350.60" y2="500.40" stroke="#9a2550" stroke-width="0.9"/>
<line x1="338" y1="499.9" x2="356" y2="499.9" stroke="#3cc83c" stroke-width="1.6"/>
<line x1="389" y1="500" x2="444.2" y2="500" stroke="#2d67b4" stroke-width="2.0"/>
<polygon points="395.94,500.00 397.86,494.30 399.54,494.30 401.46,500.00" fill="#d3dff7"/>
<polygon points="399.28,500.00 401.52,477.66 403.48,477.66 405.72,500.00" fill="#d3dff7"/>
<polygon points="403.08,500.00 405.32,489.93 407.28,489.93 409.52,500.00" fill="#d3dff7"/>
<polygon points="405.76,500.00 408.64,472.83 411.16,472.83 414.04,500.00" fill="#d3dff7"/>
<polygon points="409.36,500.00 412.24,472.83 414.76,472.83 417.64,500.00" fill="#d3dff7"/>
<polygon points="413.16,500.00 416.04,476.40 418.56,476.40 421.44,500.00" fill="#d3dff7"/>
<polygon points="417.88,500.00 420.12,485.60 422.08,485.60 424.32,500.00" fill="#d3dff7"/>
<polygon points="397.32,500.00 398.08,496.70 398.35,485.00 399.05,485.00 399.32,496.70 400.08,500.00" fill="#a9c1f0" stroke="#3565d4" stroke-width="1.05" stroke-linejoin="round"/>
<polygon points="400.89,500.00 401.78,487.06 402.15,441.20 402.85,441.20 403.22,487.06 404.11,500.00" fill="#a9c1f0" stroke="#3565d4" stroke-width="1.05" stroke-linejoin="round"/>
<polygon points="404.69,500.00 405.58,494.17 405.95,473.50 406.65,473.50 407.02,494.17 407.91,500.00" fill="#a9c1f0" stroke="#3565d4" stroke-width="1.05" stroke-linejoin="round"/>
<polygon points="407.83,500.00 408.97,484.27 409.55,428.50 410.25,428.50 410.83,484.27 411.97,500.00" fill="#a9c1f0" stroke="#3565d4" stroke-width="1.05" stroke-linejoin="round"/>
<polygon points="411.43,500.00 412.57,484.27 413.15,428.50 413.85,428.50 414.43,484.27 415.57,500.00" fill="#a9c1f0" stroke="#3565d4" stroke-width="1.05" stroke-linejoin="round"/>
<polygon points="415.23,500.00 416.37,486.34 416.95,437.90 417.65,437.90 418.23,486.34 419.37,500.00" fill="#a9c1f0" stroke="#3565d4" stroke-width="1.05" stroke-linejoin="round"/>
<polygon points="419.49,500.00 420.38,491.66 420.75,462.10 421.45,462.10 421.82,491.66 422.71,500.00" fill="#a9c1f0" stroke="#3565d4" stroke-width="1.05" stroke-linejoin="round"/>
<polygon points="423.25,500.00 423.88,499.01 424.05,495.50 424.75,495.50 424.92,499.01 425.55,500.00" fill="#a9c1f0" stroke="#3565d4" stroke-width="1.05" stroke-linejoin="round"/>
<polygon points="391.90,500.00 392.60,494.72 392.71,475.80 395.29,475.80 395.40,494.72 396.10,500.00" fill="#e25a5a"/>
<polygon points="392.71,476.30 392.91,456.30 395.09,456.30 395.29,476.30" fill="#d02c3c"/>
<line x1="405" y1="499.5" x2="418" y2="499.5" stroke="#3cc83c" stroke-width="1.6"/>
<line x1="457.3" y1="498" x2="497.7" y2="498" stroke="#2d67b4" stroke-width="2.0"/>
<polygon points="464.02,498.00 466.58,485.92 468.82,485.92 471.38,498.00" fill="#d3dff7"/>
<polygon points="467.32,498.00 469.88,474.44 472.12,474.44 474.68,498.00" fill="#d3dff7"/>
<polygon points="470.92,498.00 473.48,471.67 475.72,471.67 478.28,498.00" fill="#d3dff7"/>
<polygon points="474.22,498.00 476.78,471.67 479.02,471.67 481.58,498.00" fill="#d3dff7"/>
<polygon points="465.86,498.00 466.87,491.00 467.35,466.20 468.05,466.20 468.53,491.00 469.54,498.00" fill="#a9c1f0" stroke="#3565d4" stroke-width="1.05" stroke-linejoin="round"/>
<polygon points="469.16,498.00 470.17,484.36 470.65,436.00 471.35,436.00 471.83,484.36 472.84,498.00" fill="#a9c1f0" stroke="#3565d4" stroke-width="1.05" stroke-linejoin="round"/>
<polygon points="472.76,498.00 473.77,482.75 474.25,428.70 474.95,428.70 475.43,482.75 476.44,498.00" fill="#a9c1f0" stroke="#3565d4" stroke-width="1.05" stroke-linejoin="round"/>
<polygon points="476.06,498.00 477.07,482.75 477.55,428.70 478.25,428.70 478.73,482.75 479.74,498.00" fill="#a9c1f0" stroke="#3565d4" stroke-width="1.05" stroke-linejoin="round"/>
<polygon points="479.65,498.00 480.28,495.23 480.45,485.40 481.15,485.40 481.32,495.23 481.95,498.00" fill="#a9c1f0" stroke="#3565d4" stroke-width="1.05" stroke-linejoin="round"/>
<polygon points="460.80,498.00 461.40,493.75 461.50,478.53 463.70,478.53 463.80,493.75 464.40,498.00" fill="#e25a5a"/>
<polygon points="461.50,479.03 461.66,462.90 463.54,462.90 463.70,479.03" fill="#d02c3c"/>
<polygon points="471.95,498.00 472.58,490.85 472.75,465.50 473.45,465.50 473.62,490.85 474.25,498.00" fill="#c8809c" stroke="#9a2550" stroke-width="0.8" stroke-linejoin="round"/>
<line x1="473.10" y1="466.00" x2="473.10" y2="498.00" stroke="#9a2550" stroke-width="0.9"/>
<line x1="468" y1="497.5" x2="480" y2="497.5" stroke="#3cc83c" stroke-width="1.6"/>
<line x1="54.5" y1="584.4" x2="102.5" y2="584.4" stroke="#2d67b4" stroke-width="2.0"/>
<polygon points="61.12,584.40 63.68,577.48 65.92,577.48 68.48,584.40" fill="#d3dff7"/>
<polygon points="63.30,584.40 66.50,566.77 69.30,566.77 72.50,584.40" fill="#d3dff7"/>
<polygon points="66.60,584.40 69.80,556.51 72.60,556.51 75.80,584.40" fill="#d3dff7"/>
<polygon points="69.90,584.40 73.10,559.36 75.90,559.36 79.10,584.40" fill="#d3dff7"/>
<polygon points="73.86,584.40 76.74,573.42 79.26,573.42 82.14,584.40" fill="#d3dff7"/>
<polygon points="78.38,584.40 80.62,579.04 82.58,579.04 84.82,584.40" fill="#d3dff7"/>
<polygon points="62.96,584.40 63.97,580.40 64.45,566.20 65.15,566.20 65.63,580.40 66.64,584.40" fill="#a9c1f0" stroke="#3565d4" stroke-width="1.05" stroke-linejoin="round"/>
<polygon points="65.60,584.40 66.87,574.19 67.55,538.00 68.25,538.00 68.94,574.19 70.20,584.40" fill="#a9c1f0" stroke="#3565d4" stroke-width="1.05" stroke-linejoin="round"/>
<polygon points="68.90,584.40 70.17,568.25 70.85,511.00 71.55,511.00 72.23,568.25 73.50,584.40" fill="#5a86e0" stroke="#3565d4" stroke-width="1.05" stroke-linejoin="round"/>
<polygon points="72.20,584.40 73.47,569.90 74.15,518.50 74.85,518.50 75.53,569.90 76.80,584.40" fill="#a9c1f0" stroke="#3565d4" stroke-width="1.05" stroke-linejoin="round"/>
<polygon points="75.93,584.40 77.07,578.04 77.65,555.50 78.35,555.50 78.93,578.04 80.07,584.40" fill="#a9c1f0" stroke="#3565d4" stroke-width="1.05" stroke-linejoin="round"/>
<polygon points="79.99,584.40 80.88,581.30 81.25,570.30 81.95,570.30 82.32,581.30 83.21,584.40" fill="#a9c1f0" stroke="#3565d4" stroke-width="1.05" stroke-linejoin="round"/>
<polygon points="58.20,584.40 58.80,580.12 58.90,564.76 61.10,564.76 61.20,580.12 61.80,584.40" fill="#e25a5a"/>
<polygon points="58.90,565.26 59.06,549.00 60.94,549.00 61.10,565.26" fill="#d02c3c"/>
<line x1="62" y1="583.9" x2="78" y2="583.9" stroke="#3cc83c" stroke-width="1.6"/>
<line x1="118.7" y1="584.7" x2="164.9" y2="584.7" stroke="#2d67b4" stroke-width="2.0"/>
<polygon points="123.64,584.70 125.56,581.01 127.24,581.01 129.16,584.70" fill="#d3dff7"/>
<polygon points="133.74,584.70 135.66,577.67 137.34,577.67 139.26,584.70" fill="#d3dff7"/>
<polygon points="125.02,584.70 125.78,582.57 126.05,575.00 126.75,575.00 127.02,582.57 127.78,584.70" fill="#a9c1f0" stroke="#3565d4" stroke-width="1.05" stroke-linejoin="round"/>
<polygon points="131.95,584.70 132.58,582.85 132.75,576.30 133.45,576.30 133.62,582.85 134.25,584.70" fill="#a9c1f0" stroke="#3565d4" stroke-width="1.05" stroke-linejoin="round"/>
<polygon points="135.12,584.70 135.88,580.63 136.15,566.20 136.85,566.20 137.12,580.63 137.88,584.70" fill="#a9c1f0" stroke="#3565d4" stroke-width="1.05" stroke-linejoin="round"/>
<polygon points="125.10,584.70 125.90,579.25 126.03,559.73 128.97,559.73 129.10,579.25 129.90,584.70" fill="#e25a5a"/>
<polygon points="126.03,560.23 126.25,539.60 128.75,539.60 128.97,560.23" fill="#d02c3c"/>
<line x1="130" y1="584.2" x2="140" y2="584.2" stroke="#3cc83c" stroke-width="1.6"/>
<line x1="178.4" y1="582.8" x2="229.9" y2="582.8" stroke="#2d67b4" stroke-width="2.0"/>
<polygon points="193.14,582.80 195.06,576.87 196.74,576.87 198.66,582.80" fill="#d3dff7"/>
<polygon points="196.68,582.80 198.92,572.58 200.88,572.58 203.12,582.80" fill="#d3dff7"/>
<polygon points="200.48,582.80 202.72,555.02 204.68,555.02 206.92,582.80" fill="#d3dff7"/>
<polygon points="204.48,582.80 206.72,574.21 208.68,574.21 210.92,582.80" fill="#d3dff7"/>
<polygon points="210.24,582.80 212.16,574.71 213.84,574.71 215.76,582.80" fill="#d3dff7"/>
<polygon points="217.74,582.80 219.66,578.54 221.34,578.54 223.26,582.80" fill="#d3dff7"/>
<polygon points="194.52,582.80 195.28,579.37 195.55,567.20 196.25,567.20 196.52,579.37 197.28,582.80" fill="#a9c1f0" stroke="#3565d4" stroke-width="1.05" stroke-linejoin="round"/>
<polygon points="198.29,582.80 199.18,576.88 199.55,555.90 200.25,555.90 200.62,576.88 201.51,582.80" fill="#a9c1f0" stroke="#3565d4" stroke-width="1.05" stroke-linejoin="round"/>
<polygon points="202.09,582.80 202.98,566.72 203.35,509.70 204.05,509.70 204.42,566.72 205.31,582.80" fill="#a9c1f0" stroke="#3565d4" stroke-width="1.05" stroke-linejoin="round"/>
<polygon points="206.09,582.80 206.98,577.83 207.35,560.20 208.05,560.20 208.42,577.83 209.31,582.80" fill="#a9c1f0" stroke="#3565d4" stroke-width="1.05" stroke-linejoin="round"/>
<polygon points="211.62,582.80 212.38,578.11 212.65,561.50 213.35,561.50 213.62,578.11 214.38,582.80" fill="#a9c1f0" stroke="#3565d4" stroke-width="1.05" stroke-linejoin="round"/>
<polygon points="214.45,582.80 215.08,580.93 215.25,574.30 215.95,574.30 216.12,580.93 216.75,582.80" fill="#a9c1f0" stroke="#3565d4" stroke-width="1.05" stroke-linejoin="round"/>
<polygon points="219.12,582.80 219.88,580.34 220.15,571.60 220.85,571.60 221.12,580.34 221.88,582.80" fill="#a9c1f0" stroke="#3565d4" stroke-width="1.05" stroke-linejoin="round"/>
<polygon points="209.26,582.80 210.27,573.98 210.75,542.70 211.45,542.70 211.93,573.98 212.94,582.80" fill="#c8809c" stroke="#9a2550" stroke-width="0.8" stroke-linejoin="round"/>
<line x1="211.10" y1="543.20" x2="211.10" y2="582.80" stroke="#9a2550" stroke-width="0.9"/>
<line x1="200" y1="582.3" x2="222" y2="582.3" stroke="#3cc83c" stroke-width="1.6"/>
<line x1="251.2" y1="582.5" x2="319.6" y2="582.5" stroke="#2d67b4" stroke-width="2.0"/>
<polygon points="283.94,582.50 285.86,575.74 287.54,575.74 289.46,582.50" fill="#d3dff7"/>
<polygon points="288.24,582.50 290.16,576.61 291.84,576.61 293.76,582.50" fill="#d3dff7"/>
<polygon points="291.72,582.50 294.28,567.64 296.52,567.64 299.08,582.50" fill="#d3dff7"/>
<polygon points="296.71,582.50 298.79,575.74 300.61,575.74 302.69,582.50" fill="#d3dff7"/>
<polygon points="301.17,582.50 302.93,579.35 304.47,579.35 306.23,582.50" fill="#d3dff7"/>
<polygon points="285.32,582.50 286.08,578.58 286.35,564.70 287.05,564.70 287.32,578.58 288.08,582.50" fill="#a9c1f0" stroke="#3565d4" stroke-width="1.05" stroke-linejoin="round"/>
<polygon points="289.62,582.50 290.38,579.09 290.65,567.00 291.35,567.00 291.62,579.09 292.38,582.50" fill="#a9c1f0" stroke="#3565d4" stroke-width="1.05" stroke-linejoin="round"/>
<polygon points="293.56,582.50 294.57,573.90 295.05,543.40 295.75,543.40 296.23,573.90 297.24,582.50" fill="#a9c1f0" stroke="#3565d4" stroke-width="1.05" stroke-linejoin="round"/>
<polygon points="298.20,582.50 299.03,578.58 299.35,564.70 300.05,564.70 300.37,578.58 301.19,582.50" fill="#a9c1f0" stroke="#3565d4" stroke-width="1.05" stroke-linejoin="round"/>
<polygon points="302.44,582.50 303.13,580.67 303.35,574.20 304.05,574.20 304.27,580.67 304.96,582.50" fill="#a9c1f0" stroke="#3565d4" stroke-width="1.05" stroke-linejoin="round"/>
<polygon points="310.65,582.50 311.28,581.82 311.45,579.40 312.15,579.40 312.32,581.82 312.95,582.50" fill="#a9c1f0" stroke="#3565d4" stroke-width="1.05" stroke-linejoin="round"/>
<polygon points="254.15,582.50 254.90,573.78 255.02,542.51 257.78,542.51 257.90,573.78 258.65,582.50" fill="#e25a5a"/>
<polygon points="255.02,543.01 255.23,510.10 257.57,510.10 257.78,543.01" fill="#d02c3c"/>
<line x1="288" y1="582.0" x2="305" y2="582.0" stroke="#3cc83c" stroke-width="1.6"/>
<line x1="333.1" y1="584.7" x2="368.5" y2="584.7" stroke="#2d67b4" stroke-width="2.0"/>
<polygon points="340.18,584.70 342.42,569.61 344.38,569.61 346.62,584.70" fill="#d3dff7"/>
<polygon points="343.52,584.70 346.08,562.01 348.32,562.01 350.88,584.70" fill="#d3dff7"/>
<polygon points="347.35,584.70 349.75,559.54 351.85,559.54 354.25,584.70" fill="#d3dff7"/>
<polygon points="351.44,584.70 353.36,575.16 355.04,575.16 356.96,584.70" fill="#d3dff7"/>
<polygon points="341.79,584.70 342.68,575.97 343.05,545.00 343.75,545.00 344.12,575.97 345.01,584.70" fill="#a9c1f0" stroke="#3565d4" stroke-width="1.05" stroke-linejoin="round"/>
<polygon points="345.36,584.70 346.37,571.57 346.85,525.00 347.55,525.00 348.03,571.57 349.04,584.70" fill="#a9c1f0" stroke="#3565d4" stroke-width="1.05" stroke-linejoin="round"/>
<polygon points="349.07,584.70 350.02,570.14 350.45,518.50 351.15,518.50 351.58,570.14 352.53,584.70" fill="#a9c1f0" stroke="#3565d4" stroke-width="1.05" stroke-linejoin="round"/>
<polygon points="352.82,584.70 353.58,579.18 353.85,559.60 354.55,559.60 354.82,579.18 355.58,584.70" fill="#a9c1f0" stroke="#3565d4" stroke-width="1.05" stroke-linejoin="round"/>
<polygon points="336.25,584.70 336.90,577.99 337.00,553.96 339.40,553.96 339.50,577.99 340.15,584.70" fill="#e25a5a"/>
<polygon points="337.00,554.46 337.18,529.10 339.22,529.10 339.40,554.46" fill="#d02c3c"/>
<polygon points="360.35,584.70 361.00,577.91 361.10,553.57 363.50,553.57 363.60,577.91 364.25,584.70" fill="#e25a5a"/>
<polygon points="361.10,554.07 361.28,528.40 363.32,528.40 363.50,554.07" fill="#d02c3c"/>
<polygon points="349.45,584.70 350.08,575.97 350.25,545.00 350.95,545.00 351.12,575.97 351.75,584.70" fill="#c8809c" stroke="#9a2550" stroke-width="0.8" stroke-linejoin="round"/>
<line x1="350.60" y1="545.50" x2="350.60" y2="584.70" stroke="#9a2550" stroke-width="0.9"/>
<line x1="338" y1="584.2" x2="356" y2="584.2" stroke="#3cc83c" stroke-width="1.6"/>
<line x1="388.4" y1="586" x2="436.8" y2="586" stroke="#2d67b4" stroke-width="2.0"/>
<polygon points="398.82,586.00 401.38,561.87 403.62,561.87 406.18,586.00" fill="#d3dff7"/>
<polygon points="402.44,586.00 404.36,576.20 406.04,576.20 407.96,586.00" fill="#d3dff7"/>
<polygon points="404.62,586.00 407.18,562.14 409.42,562.14 411.98,586.00" fill="#d3dff7"/>
<polygon points="407.82,586.00 410.38,561.87 412.62,561.87 415.18,586.00" fill="#d3dff7"/>
<polygon points="411.08,586.00 413.32,567.49 415.28,567.49 417.52,586.00" fill="#d3dff7"/>
<polygon points="396.35,586.00 396.98,581.20 397.15,564.20 397.85,564.20 398.02,581.20 398.65,586.00" fill="#a9c1f0" stroke="#3565d4" stroke-width="1.05" stroke-linejoin="round"/>
<polygon points="400.66,586.00 401.67,572.03 402.15,522.50 402.85,522.50 403.33,572.03 404.34,586.00" fill="#a9c1f0" stroke="#3565d4" stroke-width="1.05" stroke-linejoin="round"/>
<polygon points="403.82,586.00 404.58,580.32 404.85,560.20 405.55,560.20 405.82,580.32 406.58,586.00" fill="#a9c1f0" stroke="#3565d4" stroke-width="1.05" stroke-linejoin="round"/>
<polygon points="406.46,586.00 407.47,572.18 407.95,523.20 408.65,523.20 409.13,572.18 410.14,586.00" fill="#a9c1f0" stroke="#3565d4" stroke-width="1.05" stroke-linejoin="round"/>
<polygon points="409.66,586.00 410.67,572.03 411.15,522.50 411.85,522.50 412.33,572.03 413.34,586.00" fill="#a9c1f0" stroke="#3565d4" stroke-width="1.05" stroke-linejoin="round"/>
<polygon points="412.69,586.00 413.58,575.29 413.95,537.30 414.65,537.30 415.02,575.29 415.91,586.00" fill="#a9c1f0" stroke="#3565d4" stroke-width="1.05" stroke-linejoin="round"/>
<polygon points="391.00,586.00 391.60,580.07 391.70,558.83 393.90,558.83 394.00,580.07 394.60,586.00" fill="#e25a5a"/>
<polygon points="391.70,559.33 391.86,536.90 393.74,536.90 393.90,559.33" fill="#d02c3c"/>
<line x1="402" y1="585.5" x2="416" y2="585.5" stroke="#3cc83c" stroke-width="1.6"/>
<line x1="457.7" y1="580.8" x2="503" y2="580.8" stroke="#2d67b4" stroke-width="2.0"/>
<polygon points="464.20,580.80 467.40,567.88 470.20,567.88 473.40,580.80" fill="#d3dff7"/>
<polygon points="467.94,580.80 469.86,569.55 471.54,569.55 473.46,580.80" fill="#d3dff7"/>
<polygon points="470.88,580.80 473.12,557.20 475.08,557.20 477.32,580.80" fill="#d3dff7"/>
<polygon points="473.48,580.80 475.72,564.04 477.68,564.04 479.92,580.80" fill="#d3dff7"/>
<polygon points="476.84,580.80 478.76,569.82 480.44,569.82 482.36,580.80" fill="#d3dff7"/>
<polygon points="466.50,580.80 467.76,573.32 468.45,546.80 469.15,546.80 469.84,573.32 471.10,580.80" fill="#a9c1f0" stroke="#3565d4" stroke-width="1.05" stroke-linejoin="round"/>
<polygon points="469.32,580.80 470.08,574.29 470.35,551.20 471.05,551.20 471.32,574.29 472.08,580.80" fill="#a9c1f0" stroke="#3565d4" stroke-width="1.05" stroke-linejoin="round"/>
<polygon points="472.49,580.80 473.38,567.14 473.75,518.70 474.45,518.70 474.82,567.14 475.71,580.80" fill="#a9c1f0" stroke="#3565d4" stroke-width="1.05" stroke-linejoin="round"/>
<polygon points="475.09,580.80 475.98,571.10 476.35,536.70 477.05,536.70 477.42,571.10 478.31,580.80" fill="#a9c1f0" stroke="#3565d4" stroke-width="1.05" stroke-linejoin="round"/>
<polygon points="478.22,580.80 478.98,574.44 479.25,551.90 479.95,551.90 480.22,574.44 480.98,580.80" fill="#a9c1f0" stroke="#3565d4" stroke-width="1.05" stroke-linejoin="round"/>
<polygon points="461.80,580.80 462.30,575.08 462.38,554.56 464.22,554.56 464.30,575.08 464.80,580.80" fill="#e25a5a"/>
<polygon points="462.38,555.06 462.52,533.40 464.08,533.40 464.22,555.06" fill="#d02c3c"/>
<polygon points="471.72,580.80 472.48,571.58 472.75,538.90 473.45,538.90 473.72,571.58 474.48,580.80" fill="#c8809c" stroke="#9a2550" stroke-width="0.8" stroke-linejoin="round"/>
<line x1="473.10" y1="539.40" x2="473.10" y2="580.80" stroke="#9a2550" stroke-width="0.9"/>
<line x1="468" y1="580.3" x2="482" y2="580.3" stroke="#3cc83c" stroke-width="1.6"/>
<line x1="58.7" y1="675.4" x2="110.5" y2="675.4" stroke="#2d67b4" stroke-width="2.0"/>
<polygon points="58.7,675.1 58.7,672.8 59.6,671.7 60.5,672.3 61.4,671.5 62.3,671.5 63.2,673.4 64.1,673.6 65.0,670.8 65.9,672.7 66.8,672.8 67.7,670.2 68.6,672.0 69.5,670.8 70.4,672.0 71.3,671.4 72.2,673.1 73.1,671.4 74.0,670.6 74.9,671.8 75.8,671.1 76.7,671.3 77.6,673.4 78.5,671.0 79.4,671.6 80.3,672.6 81.2,673.5 82.1,670.7 83.0,672.0 83.9,671.2 84.8,670.6 85.7,671.2 86.6,670.5 87.5,672.3 88.4,670.9 89.3,672.1 90.2,670.4 91.1,670.6 92.0,673.3 92.9,673.1 93.8,672.9 94.7,670.3 95.6,672.1 96.5,671.5 97.4,672.6 98.3,671.9 99.2,672.3 100.1,672.4 101.0,671.6 101.9,671.6 102.8,670.5 103.7,671.3 104.6,670.4 105.5,670.7 106.4,670.2 107.3,671.3 108.2,673.0 109.1,670.7 110.0,670.3 110.5,675.1" fill="#000"/>
<polygon points="69.64,675.40 71.56,664.91 73.24,664.91 75.16,675.40" fill="#d3dff7"/>
<polygon points="83.94,675.40 85.86,666.47 87.54,666.47 89.46,675.40" fill="#d3dff7"/>
<polygon points="71.02,675.40 71.78,669.33 72.05,647.80 72.75,647.80 73.02,669.33 73.78,675.40" fill="#a9c1f0" stroke="#3565d4" stroke-width="1.05" stroke-linejoin="round"/>
<polygon points="85.32,675.40 86.08,670.23 86.35,651.90 87.05,651.90 87.32,670.23 88.08,675.40" fill="#a9c1f0" stroke="#3565d4" stroke-width="1.05" stroke-linejoin="round"/>
<polygon points="59.30,675.40 60.10,669.75 60.23,649.50 63.17,649.50 63.30,669.75 64.10,675.40" fill="#e25a5a"/>
<polygon points="60.23,650.00 60.45,628.60 62.95,628.60 63.17,650.00" fill="#d02c3c"/>
<line x1="118.7" y1="676.5" x2="165.5" y2="676.5" stroke="#2d67b4" stroke-width="2.0"/>
<polygon points="124.98,676.50 125.49,675.42 125.55,671.60 126.25,671.60 126.31,675.42 126.82,676.50" fill="#a9c1f0" stroke="#3565d4" stroke-width="1.05" stroke-linejoin="round"/>
<polygon points="127.00,676.50 127.70,671.52 127.81,653.67 130.39,653.67 130.50,671.52 131.20,676.50" fill="#e25a5a"/>
<polygon points="127.81,654.17 128.01,635.30 130.19,635.30 130.39,654.17" fill="#d02c3c"/>
<line x1="191.4" y1="677.8" x2="234" y2="677.8" stroke="#2d67b4" stroke-width="2.0"/>
<polygon points="204.54,677.80 206.46,667.16 208.14,667.16 210.06,677.80" fill="#d3dff7"/>
<polygon points="203.68,677.80 204.19,675.80 204.25,668.70 204.95,668.70 205.01,675.80 205.52,677.80" fill="#a9c1f0" stroke="#3565d4" stroke-width="1.05" stroke-linejoin="round"/>
<polygon points="205.28,677.80 205.79,675.95 205.85,669.40 206.55,669.40 206.61,675.95 207.12,677.80" fill="#a9c1f0" stroke="#3565d4" stroke-width="1.05" stroke-linejoin="round"/>
<polygon points="205.92,677.80 206.68,671.64 206.95,649.80 207.65,649.80 207.92,671.64 208.68,677.80" fill="#a9c1f0" stroke="#3565d4" stroke-width="1.05" stroke-linejoin="round"/>
<polygon points="208.20,677.80 208.90,670.41 209.01,643.92 211.59,643.92 211.70,670.41 212.40,677.80" fill="#e25a5a"/>
<polygon points="209.01,644.42 209.21,616.50 211.39,616.50 211.59,644.42" fill="#d02c3c"/>
<line x1="202" y1="677.3" x2="212" y2="677.3" stroke="#3cc83c" stroke-width="1.6"/>
<line x1="251.8" y1="678.7" x2="321.3" y2="678.7" stroke="#2d67b4" stroke-width="2.0"/>
<polygon points="251.8,678.4 251.8,673.8 252.7,675.0 253.6,674.5 254.5,676.2 255.4,674.1 256.3,674.9 257.2,675.9 258.1,676.7 259.0,674.0 259.9,673.5 260.8,676.6 261.7,674.2 262.6,675.5 263.5,676.4 264.4,675.9 265.3,674.3 266.2,673.9 267.1,676.7 268.0,674.8 268.9,676.7 269.8,674.5 270.7,675.8 271.6,673.9 272.5,673.6 273.4,675.2 274.3,673.5 275.2,675.8 276.1,676.6 277.0,674.9 277.9,676.8 278.8,676.2 279.7,675.5 280.6,674.8 281.5,676.4 282.4,676.8 283.3,673.9 284.2,675.8 285.1,673.6 286.0,673.9 286.9,675.6 287.8,675.3 288.7,675.1 289.6,674.7 290.5,674.9 291.4,675.0 292.3,674.8 293.2,673.7 294.1,675.2 295.0,675.4 295.9,674.5 296.8,676.1 297.7,675.9 298.6,673.6 299.5,675.1 300.4,675.0 301.3,676.9 302.2,675.5 303.1,674.9 304.0,676.8 304.9,674.8 305.8,674.8 306.7,676.7 307.6,674.8 308.5,675.3 309.4,674.6 310.3,675.7 311.2,674.5 312.1,674.4 313.0,676.8 313.9,676.7 314.8,674.6 315.7,673.6 316.6,676.0 317.5,675.3 318.4,674.9 319.3,675.8 320.2,675.7 321.1,675.8 321.3,678.4" fill="#000"/>
<polygon points="305.94,678.70 307.86,669.62 309.54,669.62 311.46,678.70" fill="#d3dff7"/>
<polygon points="307.32,678.70 308.08,673.44 308.35,654.80 309.05,654.80 309.32,673.44 310.08,678.70" fill="#a9c1f0" stroke="#3565d4" stroke-width="1.05" stroke-linejoin="round"/>
<polygon points="252.90,678.70 253.60,670.96 253.71,643.23 256.29,643.23 256.40,670.96 257.10,678.70" fill="#e25a5a"/>
<polygon points="253.71,643.73 253.91,614.50 256.09,614.50 256.29,643.73" fill="#d02c3c"/>
<line x1="333" y1="677.8" x2="371.5" y2="677.8" stroke="#2d67b4" stroke-width="2.0"/>
<polygon points="342.88,677.80 343.39,676.90 343.45,673.70 344.15,673.70 344.21,676.90 344.72,677.80" fill="#a9c1f0" stroke="#3565d4" stroke-width="1.05" stroke-linejoin="round"/>
<polygon points="354.48,677.80 354.99,676.90 355.05,673.70 355.75,673.70 355.81,676.90 356.32,677.80" fill="#a9c1f0" stroke="#3565d4" stroke-width="1.05" stroke-linejoin="round"/>
<polygon points="336.25,677.80 336.90,672.69 337.00,654.37 339.40,654.37 339.50,672.69 340.15,677.80" fill="#e25a5a"/>
<polygon points="337.00,654.87 337.18,635.50 339.22,635.50 339.40,654.87" fill="#d02c3c"/>
<polygon points="349.55,677.80 350.20,672.57 350.30,653.82 352.70,653.82 352.80,672.57 353.45,677.80" fill="#e25a5a"/>
<polygon points="350.30,654.32 350.48,634.50 352.52,634.50 352.70,654.32" fill="#d02c3c"/>
<polygon points="361.85,677.80 362.50,672.57 362.60,653.82 365.00,653.82 365.10,672.57 365.75,677.80" fill="#e25a5a"/>
<polygon points="362.60,654.32 362.78,634.50 364.82,634.50 365.00,654.32" fill="#d02c3c"/>
<line x1="388.8" y1="680.5" x2="439.9" y2="680.5" stroke="#2d67b4" stroke-width="2.0"/>
<polygon points="407.84,680.50 409.76,677.04 411.44,677.04 413.36,680.50" fill="#d3dff7"/>
<polygon points="409.14,680.50 411.06,662.98 412.74,662.98 414.66,680.50" fill="#d3dff7"/>
<polygon points="412.01,680.50 415.69,649.91 418.91,649.91 422.59,680.50" fill="#d3dff7"/>
<polygon points="418.94,680.50 422.46,649.91 425.54,649.91 429.06,680.50" fill="#d3dff7"/>
<polygon points="409.22,680.50 409.98,678.50 410.25,671.40 410.95,671.40 411.22,678.50 411.98,680.50" fill="#a9c1f0" stroke="#3565d4" stroke-width="1.05" stroke-linejoin="round"/>
<polygon points="410.52,680.50 411.28,670.36 411.55,634.40 412.25,634.40 412.52,670.36 413.28,680.50" fill="#a9c1f0" stroke="#3565d4" stroke-width="1.05" stroke-linejoin="round"/>
<polygon points="414.66,680.50 416.11,662.79 416.95,600.00 417.65,600.00 418.49,662.79 419.94,680.50" fill="#a9c1f0" stroke="#3565d4" stroke-width="1.05" stroke-linejoin="round"/>
<polygon points="421.47,680.50 422.86,662.79 423.65,600.00 424.35,600.00 425.14,662.79 426.53,680.50" fill="#a9c1f0" stroke="#3565d4" stroke-width="1.05" stroke-linejoin="round"/>
<polygon points="427.15,680.50 427.78,677.31 427.95,666.00 428.65,666.00 428.82,677.31 429.45,680.50" fill="#a9c1f0" stroke="#3565d4" stroke-width="1.05" stroke-linejoin="round"/>
<polygon points="391.30,680.50 391.90,676.25 392.00,661.03 394.20,661.03 394.30,676.25 394.90,680.50" fill="#e25a5a"/>
<polygon points="392.00,661.53 392.16,645.40 394.04,645.40 394.20,661.53" fill="#d02c3c"/>
<line x1="408" y1="680.0" x2="428" y2="680.0" stroke="#3cc83c" stroke-width="1.6"/>
<line x1="457.3" y1="676.5" x2="496.2" y2="676.5" stroke="#2d67b4" stroke-width="2.0"/>
<polygon points="457.3,676.2 457.3,673.4 458.2,672.7 459.1,673.7 460.0,673.4 460.9,672.1 461.8,674.6 462.7,672.8 463.6,672.2 464.5,673.6 465.4,673.9 466.3,672.0 467.2,673.9 468.1,674.1 469.0,673.2 469.9,672.3 470.8,674.4 471.7,673.6 472.6,673.6 473.5,671.9 474.4,673.2 475.3,671.8 476.2,674.1 477.1,673.6 478.0,672.5 478.9,671.7 479.8,673.2 480.7,673.9 481.6,674.3 482.5,672.9 483.4,674.1 484.3,672.0 485.2,671.8 486.1,674.1 487.0,673.8 487.9,672.0 488.8,672.5 489.7,672.0 490.6,673.5 491.5,674.3 492.4,673.7 493.3,672.0 494.2,673.8 495.1,673.5 496.0,673.3 496.2,676.2" fill="#000"/>
<polygon points="467.54,676.50 469.46,667.30 471.14,667.30 473.06,676.50" fill="#d3dff7"/>
<polygon points="468.92,676.50 469.68,671.18 469.95,652.30 470.65,652.30 470.92,671.18 471.68,676.50" fill="#a9c1f0" stroke="#3565d4" stroke-width="1.05" stroke-linejoin="round"/>
<polygon points="479.45,676.50 480.08,673.71 480.25,663.80 480.95,663.80 481.12,673.71 481.75,676.50" fill="#a9c1f0" stroke="#3565d4" stroke-width="1.05" stroke-linejoin="round"/>
<polygon points="459.90,676.50 460.60,671.26 460.71,652.46 463.29,652.46 463.40,671.26 464.10,676.50" fill="#e25a5a"/>
<polygon points="460.71,652.96 460.91,633.10 463.09,633.10 463.29,652.96" fill="#d02c3c"/>
<polygon points="471.80,676.50 472.50,671.26 472.61,652.46 475.19,652.46 475.30,671.26 476.00,676.50" fill="#e25a5a"/>
<polygon points="472.61,652.96 472.81,633.10 474.99,633.10 475.19,652.96" fill="#d02c3c"/>
<line x1="58.7" y1="764.4" x2="110.5" y2="764.4" stroke="#2d67b4" stroke-width="2.0"/>
<polygon points="58.7,764.1 58.7,761.2 59.6,761.2 60.5,759.5 61.4,762.1 62.3,762.6 63.2,759.4 64.1,759.6 65.0,759.2 65.9,761.1 66.8,759.4 67.7,759.4 68.6,761.8 69.5,760.1 70.4,759.8 71.3,760.3 72.2,760.8 73.1,761.6 74.0,761.4 74.9,761.8 75.8,762.4 76.7,760.6 77.6,761.6 78.5,759.8 79.4,762.4 80.3,759.5 81.2,760.2 82.1,759.5 83.0,759.6 83.9,759.5 84.8,760.6 85.7,762.6 86.6,760.1 87.5,762.0 88.4,761.6 89.3,760.3 90.2,760.8 91.1,761.2 92.0,759.4 92.9,760.5 93.8,761.4 94.7,761.7 95.6,759.7 96.5,761.0 97.4,759.9 98.3,761.4 99.2,761.9 100.1,760.8 101.0,759.8 101.9,762.0 102.8,759.9 103.7,759.5 104.6,759.9 105.5,759.8 106.4,762.6 107.3,760.5 108.2,759.7 109.1,762.4 110.0,761.7 110.5,764.1" fill="#000"/>
<polygon points="63.78,764.40 66.02,760.56 67.98,760.56 70.22,764.40" fill="#d3dff7"/>
<polygon points="67.12,764.40 69.68,736.28 71.92,736.28 74.48,764.40" fill="#d3dff7"/>
<polygon points="68.52,764.40 71.08,751.86 73.32,751.86 75.88,764.40" fill="#d3dff7"/>
<polygon points="72.96,764.40 75.84,748.82 78.36,748.82 81.24,764.40" fill="#d3dff7"/>
<polygon points="77.92,764.40 80.48,758.02 82.72,758.02 85.28,764.40" fill="#d3dff7"/>
<polygon points="83.92,764.40 86.48,752.13 88.72,752.13 91.28,764.40" fill="#d3dff7"/>
<polygon points="65.39,764.40 66.28,762.18 66.65,754.30 67.35,754.30 67.72,762.18 68.61,764.40" fill="#a9c1f0" stroke="#3565d4" stroke-width="1.05" stroke-linejoin="round"/>
<polygon points="68.96,764.40 69.97,748.12 70.45,690.40 71.15,690.40 71.63,748.12 72.64,764.40" fill="#5a86e0" stroke="#3565d4" stroke-width="1.05" stroke-linejoin="round"/>
<polygon points="70.36,764.40 71.37,757.14 71.85,731.40 72.55,731.40 73.03,757.14 74.04,764.40" fill="#a9c1f0" stroke="#3565d4" stroke-width="1.05" stroke-linejoin="round"/>
<polygon points="75.03,764.40 76.17,755.38 76.75,723.40 77.45,723.40 78.03,755.38 79.17,764.40" fill="#a9c1f0" stroke="#3565d4" stroke-width="1.05" stroke-linejoin="round"/>
<polygon points="79.76,764.40 80.77,760.70 81.25,747.60 81.95,747.60 82.43,760.70 83.44,764.40" fill="#a9c1f0" stroke="#3565d4" stroke-width="1.05" stroke-linejoin="round"/>
<polygon points="85.76,764.40 86.77,757.29 87.25,732.10 87.95,732.10 88.43,757.29 89.44,764.40" fill="#a9c1f0" stroke="#3565d4" stroke-width="1.05" stroke-linejoin="round"/>
<polygon points="59.01,764.40 59.39,757.89 59.35,734.80 60.05,734.80 60.01,757.89 60.39,764.40" fill="#c8809c" stroke="#9a2550" stroke-width="0.8" stroke-linejoin="round"/>
<line x1="59.70" y1="735.30" x2="59.70" y2="764.40" stroke="#9a2550" stroke-width="0.9"/>
<line x1="68" y1="763.9" x2="90" y2="763.9" stroke="#3cc83c" stroke-width="1.6"/>
<line x1="118.7" y1="763.7" x2="165.2" y2="763.7" stroke="#2d67b4" stroke-width="2.0"/>
<polygon points="130.08,763.70 130.59,762.45 130.65,758.00 131.35,758.00 131.41,762.45 131.92,763.70" fill="#a9c1f0" stroke="#3565d4" stroke-width="1.05" stroke-linejoin="round"/>
<polygon points="135.08,763.70 135.59,762.45 135.65,758.00 136.35,758.00 136.41,762.45 136.92,763.70" fill="#a9c1f0" stroke="#3565d4" stroke-width="1.05" stroke-linejoin="round"/>
<polygon points="140.08,763.70 140.59,762.01 140.65,756.00 141.35,756.00 141.41,762.01 141.92,763.70" fill="#a9c1f0" stroke="#3565d4" stroke-width="1.05" stroke-linejoin="round"/>
<polygon points="145.08,763.70 145.59,762.67 145.65,759.00 146.35,759.00 146.41,762.67 146.92,763.70" fill="#a9c1f0" stroke="#3565d4" stroke-width="1.05" stroke-linejoin="round"/>
<polygon points="125.30,763.70 125.90,758.78 126.00,741.15 128.20,741.15 128.30,758.78 128.90,763.70" fill="#e25a5a"/>
<polygon points="126.00,741.65 126.16,723.00 128.04,723.00 128.20,741.65" fill="#d02c3c"/>
<line x1="191.8" y1="765.5" x2="229.5" y2="765.5" stroke="#2d67b4" stroke-width="2.0"/>
<polygon points="197.98,765.50 200.22,756.65 202.18,756.65 204.42,765.50" fill="#d3dff7"/>
<polygon points="202.78,765.50 205.02,756.65 206.98,756.65 209.22,765.50" fill="#d3dff7"/>
<polygon points="207.42,765.50 209.98,736.70 212.22,736.70 214.78,765.50" fill="#d3dff7"/>
<polygon points="209.18,765.50 211.42,752.81 213.38,752.81 215.62,765.50" fill="#d3dff7"/>
<polygon points="211.94,765.50 213.86,760.48 215.54,760.48 217.46,765.50" fill="#d3dff7"/>
<polygon points="199.59,765.50 200.48,760.37 200.85,742.20 201.55,742.20 201.92,760.37 202.81,765.50" fill="#a9c1f0" stroke="#3565d4" stroke-width="1.05" stroke-linejoin="round"/>
<polygon points="204.39,765.50 205.28,760.37 205.65,742.20 206.35,742.20 206.72,760.37 207.61,765.50" fill="#a9c1f0" stroke="#3565d4" stroke-width="1.05" stroke-linejoin="round"/>
<polygon points="209.26,765.50 210.27,748.82 210.75,689.70 211.45,689.70 211.93,748.82 212.94,765.50" fill="#5a86e0" stroke="#3565d4" stroke-width="1.05" stroke-linejoin="round"/>
<polygon points="210.79,765.50 211.68,758.15 212.05,732.10 212.75,732.10 213.12,758.15 214.01,765.50" fill="#a9c1f0" stroke="#3565d4" stroke-width="1.05" stroke-linejoin="round"/>
<polygon points="213.32,765.50 214.08,762.60 214.35,752.30 215.05,752.30 215.32,762.60 216.08,765.50" fill="#a9c1f0" stroke="#3565d4" stroke-width="1.05" stroke-linejoin="round"/>
<polygon points="206.80,765.50 207.50,759.87 207.61,739.71 210.19,739.71 210.30,759.87 211.00,765.50" fill="#e25a5a"/>
<polygon points="207.61,740.21 207.81,718.90 209.99,718.90 210.19,740.21" fill="#d02c3c"/>
<line x1="200" y1="765.0" x2="215" y2="765.0" stroke="#3cc83c" stroke-width="1.6"/>
<line x1="251.2" y1="766.3" x2="319.9" y2="766.3" stroke="#2d67b4" stroke-width="2.0"/>
<polygon points="251.2,766.0 251.2,763.6 252.1,762.7 253.0,763.1 253.9,762.9 254.8,761.9 255.7,764.5 256.6,764.3 257.5,764.1 258.4,764.1 259.3,764.3 260.2,761.2 261.1,761.6 262.0,764.2 262.9,762.8 263.8,763.4 264.7,763.4 265.6,763.3 266.5,762.3 267.4,762.5 268.3,763.3 269.2,763.9 270.1,763.4 271.0,764.1 271.9,762.6 272.8,762.1 273.7,763.2 274.6,764.2 275.5,763.9 276.4,763.2 277.3,762.4 278.2,761.8 279.1,763.2 280.0,761.8 280.9,762.4 281.8,763.0 282.7,763.2 283.6,762.8 284.5,762.1 285.4,763.1 286.3,762.1 287.2,762.9 288.1,763.7 289.0,762.7 289.9,762.1 290.8,764.3 291.7,763.1 292.6,763.1 293.5,761.5 294.4,761.3 295.3,763.2 296.2,761.4 297.1,761.8 298.0,763.6 298.9,762.9 299.8,764.1 300.7,761.7 301.6,762.2 302.5,761.5 303.4,761.8 304.3,762.2 305.2,762.0 306.1,762.6 307.0,764.1 307.9,762.5 308.8,764.5 309.7,764.0 310.6,761.9 311.5,764.3 312.4,764.2 313.3,764.2 314.2,761.5 315.1,763.9 316.0,764.4 316.9,761.6 317.8,764.1 318.7,761.6 319.6,762.2 319.9,766.0" fill="#000"/>
<polygon points="291.24,766.30 293.16,758.43 294.84,758.43 296.76,766.30" fill="#d3dff7"/>
<polygon points="296.21,766.30 298.29,752.62 300.11,752.62 302.19,766.30" fill="#d3dff7"/>
<polygon points="300.78,766.30 303.02,749.54 304.98,749.54 307.22,766.30" fill="#d3dff7"/>
<polygon points="306.14,766.30 308.06,760.07 309.74,760.07 311.66,766.30" fill="#d3dff7"/>
<polygon points="250.85,766.30 251.48,763.81 251.65,755.00 252.35,755.00 252.52,763.81 253.15,766.30" fill="#555555" stroke="#000000" stroke-width="0.8" stroke-linejoin="round"/>
<line x1="252.00" y1="755.50" x2="252.00" y2="766.30" stroke="#000000" stroke-width="0.9"/>
<polygon points="292.62,766.30 293.38,761.75 293.65,745.60 294.35,745.60 294.62,761.75 295.38,766.30" fill="#a9c1f0" stroke="#3565d4" stroke-width="1.05" stroke-linejoin="round"/>
<polygon points="295.55,766.30 296.18,763.64 296.35,754.20 297.05,754.20 297.22,763.64 297.85,766.30" fill="#a9c1f0" stroke="#3565d4" stroke-width="1.05" stroke-linejoin="round"/>
<polygon points="297.70,766.30 298.53,758.38 298.85,730.30 299.55,730.30 299.87,758.38 300.69,766.30" fill="#a9c1f0" stroke="#3565d4" stroke-width="1.05" stroke-linejoin="round"/>
<polygon points="302.39,766.30 303.28,756.60 303.65,722.20 304.35,722.20 304.72,756.60 305.61,766.30" fill="#a9c1f0" stroke="#3565d4" stroke-width="1.05" stroke-linejoin="round"/>
<polygon points="307.52,766.30 308.28,762.69 308.55,749.90 309.25,749.90 309.52,762.69 310.28,766.30" fill="#a9c1f0" stroke="#3565d4" stroke-width="1.05" stroke-linejoin="round"/>
<polygon points="312.85,766.30 313.48,764.78 313.65,759.40 314.35,759.40 314.52,764.78 315.15,766.30" fill="#a9c1f0" stroke="#3565d4" stroke-width="1.05" stroke-linejoin="round"/>
<polygon points="315.85,766.30 316.48,763.81 316.65,755.00 317.35,755.00 317.52,763.81 318.15,766.30" fill="#555555" stroke="#000000" stroke-width="0.8" stroke-linejoin="round"/>
<line x1="317.00" y1="755.50" x2="317.00" y2="766.30" stroke="#000000" stroke-width="0.9"/>
<polygon points="255.00,766.30 255.60,757.68 255.70,726.81 257.90,726.81 258.00,757.68 258.60,766.30" fill="#e25a5a"/>
<polygon points="255.70,727.31 255.86,694.80 257.74,694.80 257.90,727.31" fill="#d02c3c"/>
<line x1="333.1" y1="765" x2="374.6" y2="765" stroke="#2d67b4" stroke-width="2.0"/>
<polygon points="348.58,765.00 350.82,742.77 352.78,742.77 355.02,765.00" fill="#d3dff7"/>
<polygon points="350.19,765.00 351.08,752.13 351.45,706.50 352.15,706.50 352.52,752.13 353.41,765.00" fill="#a9c1f0" stroke="#3565d4" stroke-width="1.05" stroke-linejoin="round"/>
<polygon points="337.00,765.00 337.60,759.65 337.70,740.47 339.90,740.47 340.00,759.65 340.60,765.00" fill="#e25a5a"/>
<polygon points="337.70,740.97 337.86,720.70 339.74,720.70 339.90,740.97" fill="#d02c3c"/>
<polygon points="361.70,765.00 362.30,759.46 362.40,739.59 364.60,739.59 364.70,759.46 365.30,765.00" fill="#e25a5a"/>
<polygon points="362.40,740.09 362.56,719.10 364.44,719.10 364.60,740.09" fill="#d02c3c"/>
<polygon points="350.65,765.00 351.28,759.50 351.45,740.00 352.15,740.00 352.32,759.50 352.95,765.00" fill="#c8809c" stroke="#9a2550" stroke-width="0.8" stroke-linejoin="round"/>
<line x1="351.80" y1="740.50" x2="351.80" y2="765.00" stroke="#9a2550" stroke-width="0.9"/>
<line x1="388.8" y1="765.5" x2="439.9" y2="765.5" stroke="#2d67b4" stroke-width="2.0"/>
<polygon points="399.58,765.50 401.82,757.14 403.78,757.14 406.02,765.50" fill="#d3dff7"/>
<polygon points="403.52,765.50 406.08,735.29 408.32,735.29 410.88,765.50" fill="#d3dff7"/>
<polygon points="407.12,765.50 409.68,747.94 411.92,747.94 414.48,765.50" fill="#d3dff7"/>
<polygon points="410.62,765.50 413.18,738.75 415.42,738.75 417.98,765.50" fill="#d3dff7"/>
<polygon points="415.22,765.50 417.78,739.24 420.02,739.24 422.58,765.50" fill="#d3dff7"/>
<polygon points="401.19,765.50 402.08,760.66 402.45,743.50 403.15,743.50 403.52,760.66 404.41,765.50" fill="#a9c1f0" stroke="#3565d4" stroke-width="1.05" stroke-linejoin="round"/>
<polygon points="405.36,765.50 406.37,748.01 406.85,686.00 407.55,686.00 408.03,748.01 409.04,765.50" fill="#5a86e0" stroke="#3565d4" stroke-width="1.05" stroke-linejoin="round"/>
<polygon points="408.96,765.50 409.97,755.34 410.45,719.30 411.15,719.30 411.63,755.34 412.64,765.50" fill="#a9c1f0" stroke="#3565d4" stroke-width="1.05" stroke-linejoin="round"/>
<polygon points="412.46,765.50 413.47,750.01 413.95,695.10 414.65,695.10 415.13,750.01 416.14,765.50" fill="#5a86e0" stroke="#3565d4" stroke-width="1.05" stroke-linejoin="round"/>
<polygon points="417.06,765.50 418.07,750.30 418.55,696.40 419.25,696.40 419.73,750.30 420.74,765.50" fill="#5a86e0" stroke="#3565d4" stroke-width="1.05" stroke-linejoin="round"/>
<polygon points="391.60,765.50 392.30,760.98 392.41,744.76 394.99,744.76 395.10,760.98 395.80,765.50" fill="#e25a5a"/>
<polygon points="392.41,745.26 392.61,728.10 394.79,728.10 394.99,745.26" fill="#d02c3c"/>
<line x1="404" y1="765.0" x2="420" y2="765.0" stroke="#3cc83c" stroke-width="1.6"/>
<line x1="461.6" y1="764" x2="505.3" y2="764" stroke="#2d67b4" stroke-width="2.0"/>
<polygon points="461.6,763.7 461.6,759.4 462.5,759.0 463.4,760.2 464.3,759.5 465.2,762.1 466.1,759.6 467.0,760.5 467.9,759.8 468.8,761.8 469.7,759.7 470.6,759.0 471.5,762.0 472.4,761.1 473.3,760.3 474.2,759.4 475.1,761.4 476.0,761.6 476.9,761.4 477.8,760.1 478.7,759.6 479.6,760.9 480.5,761.0 481.4,760.9 482.3,761.0 483.2,760.8 484.1,761.9 485.0,760.5 485.9,758.9 486.8,760.8 487.7,759.7 488.6,761.7 489.5,759.9 490.4,759.6 491.3,759.9 492.2,760.4 493.1,760.6 494.0,760.0 494.9,759.1 495.8,761.7 496.7,761.9 497.6,759.7 498.5,759.1 499.4,760.4 500.3,760.7 501.2,759.8 502.1,761.6 503.0,761.3 503.9,761.5 504.8,760.2 505.3,763.7" fill="#000"/>
<polygon points="465.20,764.00 468.40,754.27 471.20,754.27 474.40,764.00" fill="#d3dff7"/>
<polygon points="468.34,764.00 471.86,749.60 474.94,749.60 478.46,764.00" fill="#d3dff7"/>
<polygon points="472.90,764.00 476.10,742.49 478.90,742.49 482.10,764.00" fill="#d3dff7"/>
<polygon points="476.00,764.00 479.20,742.49 482.00,742.49 485.20,764.00" fill="#d3dff7"/>
<polygon points="479.10,764.00 482.30,748.23 485.10,748.23 488.30,764.00" fill="#d3dff7"/>
<polygon points="467.50,764.00 468.76,758.37 469.45,738.40 470.15,738.40 470.84,758.37 472.10,764.00" fill="#a9c1f0" stroke="#3565d4" stroke-width="1.05" stroke-linejoin="round"/>
<polygon points="470.87,764.00 472.26,755.66 473.05,726.10 473.75,726.10 474.54,755.66 475.93,764.00" fill="#a9c1f0" stroke="#3565d4" stroke-width="1.05" stroke-linejoin="round"/>
<polygon points="475.20,764.00 476.46,751.55 477.15,707.40 477.85,707.40 478.54,751.55 479.80,764.00" fill="#a9c1f0" stroke="#3565d4" stroke-width="1.05" stroke-linejoin="round"/>
<polygon points="478.30,764.00 479.56,751.55 480.25,707.40 480.95,707.40 481.64,751.55 482.90,764.00" fill="#a9c1f0" stroke="#3565d4" stroke-width="1.05" stroke-linejoin="round"/>
<polygon points="481.40,764.00 482.66,754.87 483.35,722.50 484.05,722.50 484.74,754.87 486.00,764.00" fill="#a9c1f0" stroke="#3565d4" stroke-width="1.05" stroke-linejoin="round"/>
<polygon points="463.40,764.00 463.90,758.67 463.98,739.58 465.82,739.58 465.90,758.67 466.40,764.00" fill="#e25a5a"/>
<polygon points="463.98,740.08 464.12,719.90 465.68,719.90 465.82,740.08" fill="#d02c3c"/>
<polygon points="474.62,764.00 475.38,756.45 475.65,729.70 476.35,729.70 476.62,756.45 477.38,764.00" fill="#c8809c" stroke="#9a2550" stroke-width="0.8" stroke-linejoin="round"/>
<line x1="476.00" y1="730.20" x2="476.00" y2="764.00" stroke="#9a2550" stroke-width="0.9"/>
<line x1="470" y1="763.5" x2="484" y2="763.5" stroke="#3cc83c" stroke-width="1.6"/>
</svg>
</body></html>
